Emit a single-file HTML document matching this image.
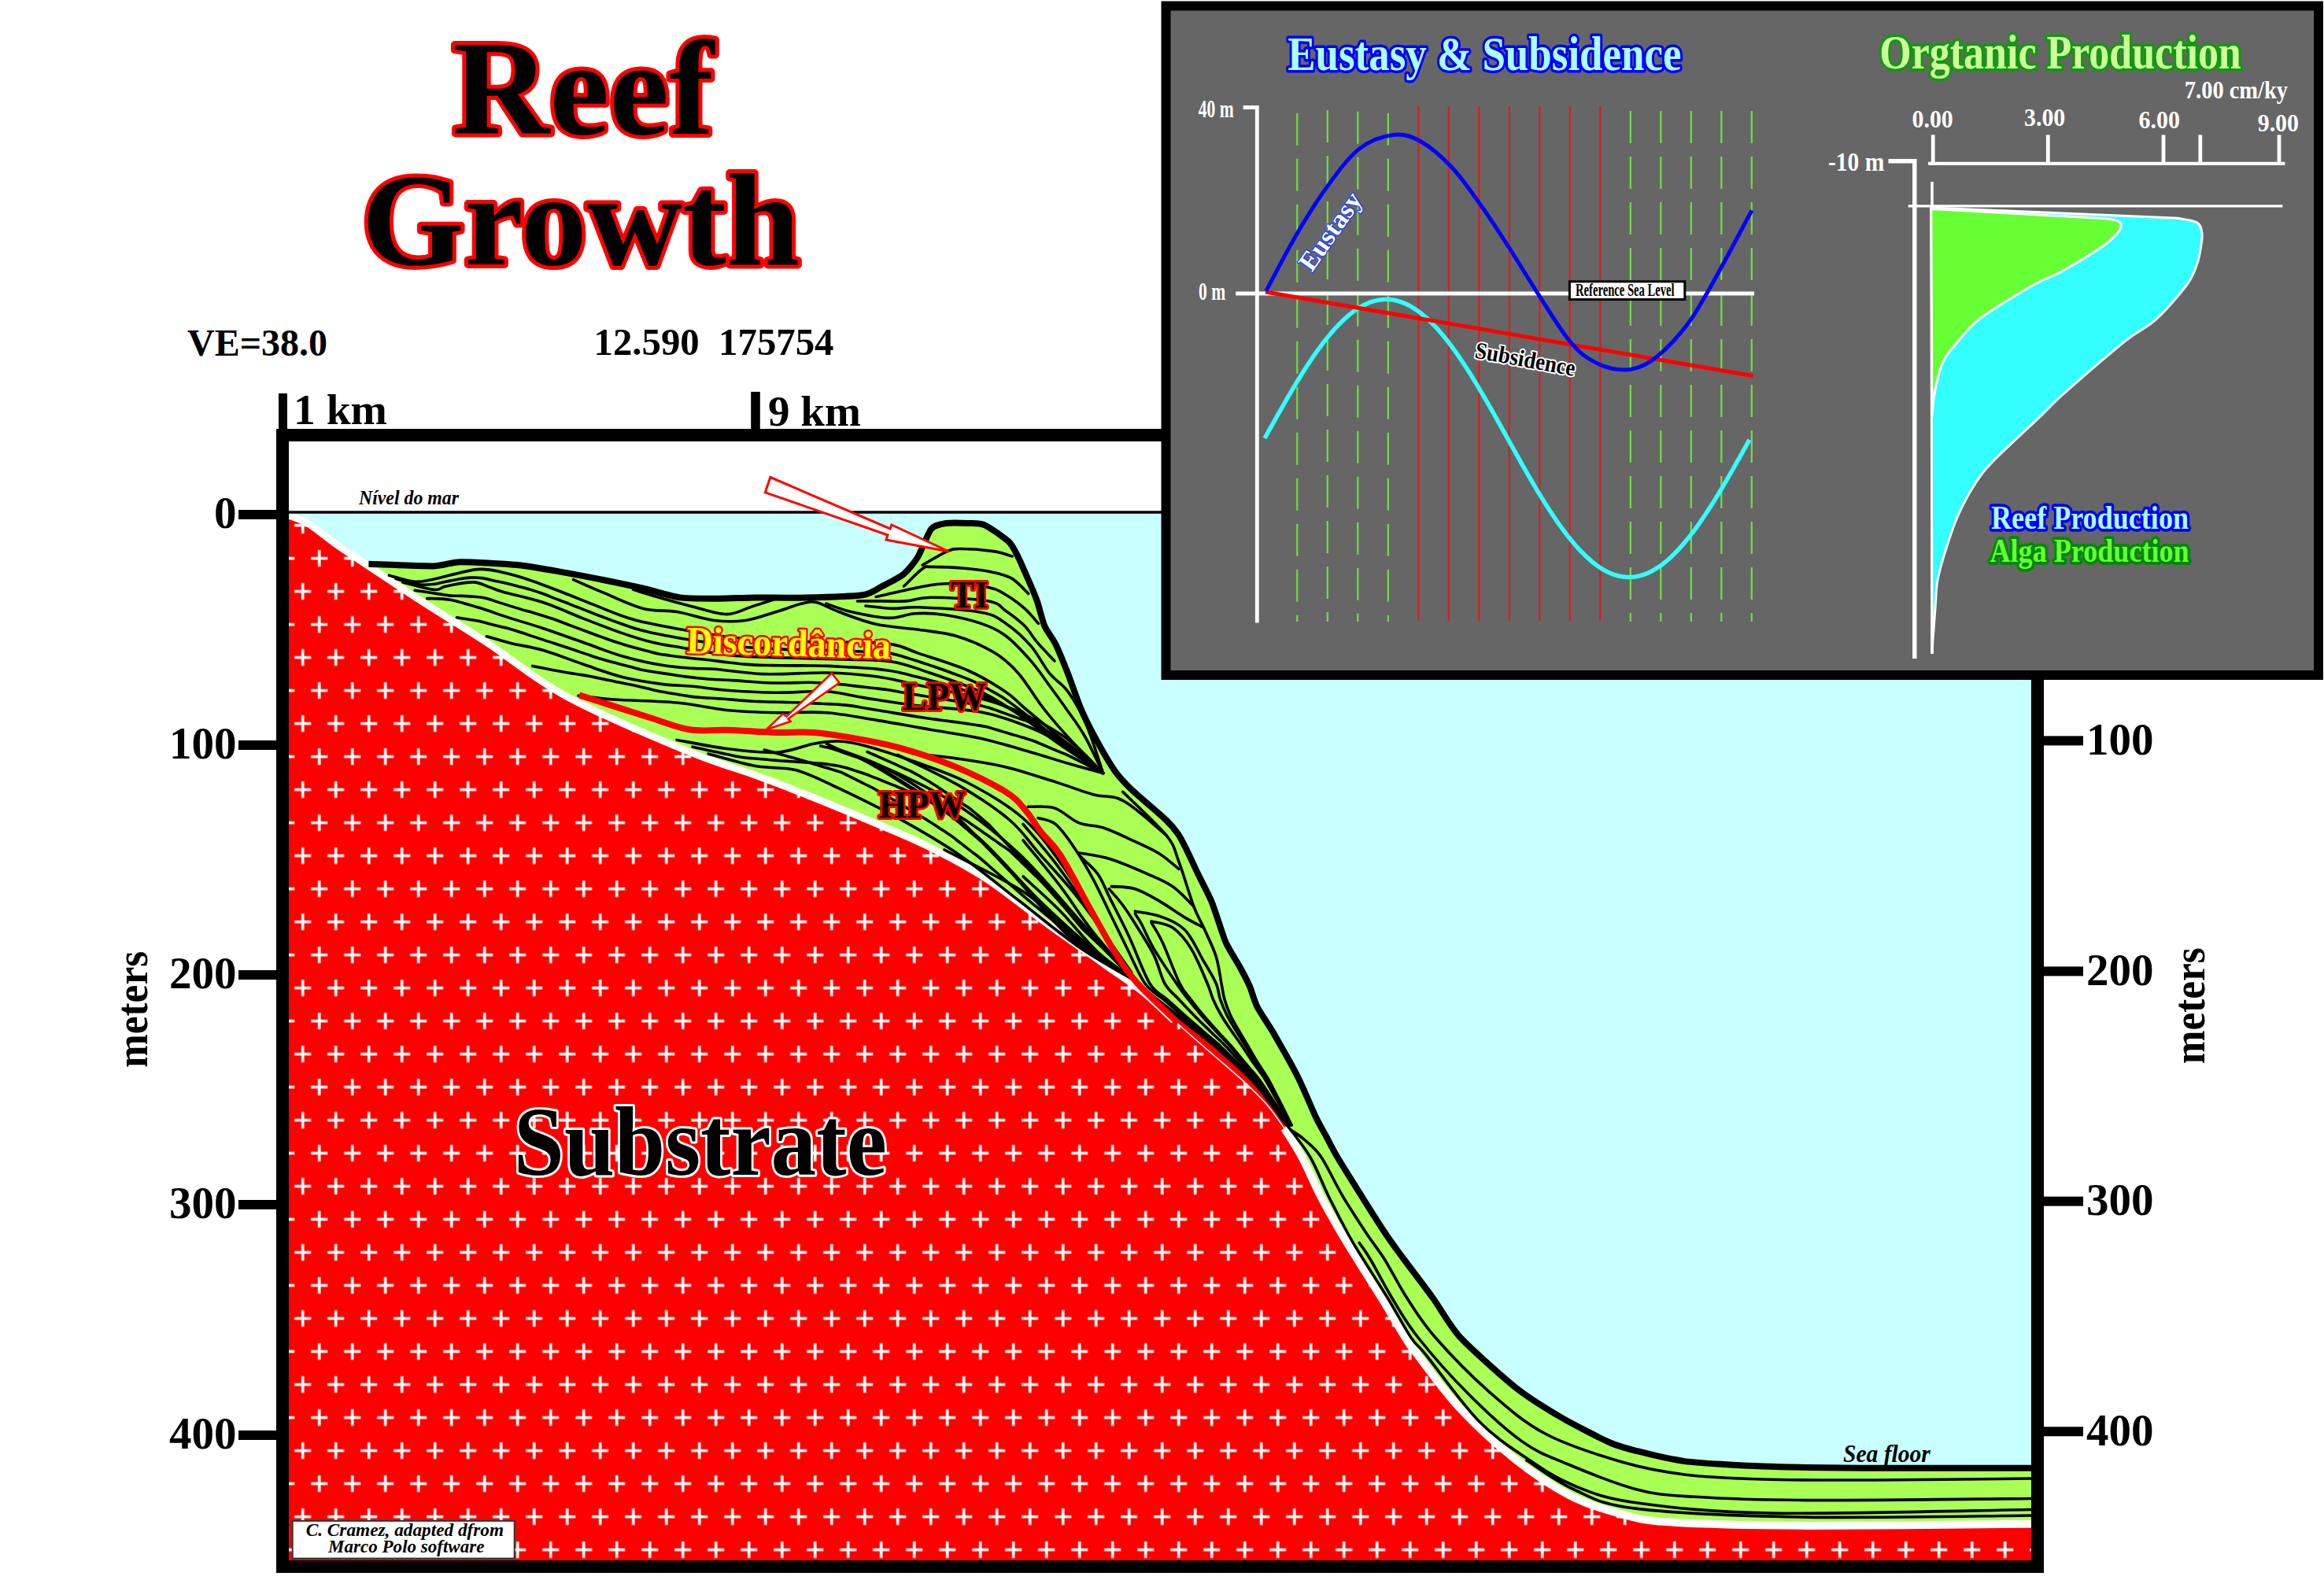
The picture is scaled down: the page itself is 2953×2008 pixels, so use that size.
<!DOCTYPE html><html><head><meta charset="utf-8"><style>html,body{margin:0;padding:0;background:#fff;overflow:hidden}svg{display:block}</style></head><body>
<svg xmlns="http://www.w3.org/2000/svg" width="2953" height="2008" viewBox="0 0 2953 2008">
<defs><pattern id="cross" patternUnits="userSpaceOnUse" x="342.7" y="688.6" width="42" height="84"><path d="M10.5,21H31.5M21,10.5V31.5M-10.5,63H10.5M0,52.5V73.5M31.5,63H52.5M42,52.5V73.5" stroke="#fff" stroke-width="3.6"/></pattern></defs>
<rect x="367" y="561" width="2214" height="1422" fill="#fff"/>
<rect x="367" y="651" width="2214" height="1332" fill="#c8ffff"/>
<path d="M367.0,655.0 C371.0,656.7 381.4,659.2 391.0,665.0 C400.6,670.8 411.6,680.6 424.5,689.7 C437.4,698.8 449.0,706.5 468.4,719.4 C487.8,732.3 515.7,751.1 540.7,767.2 C565.7,783.3 588.1,796.4 618.2,816.2 C648.3,836.0 678.5,862.8 721.5,886.0 C764.5,909.2 836.6,939.2 876.4,955.7 C916.1,972.2 935.3,976.2 960.0,985.2 C984.7,994.2 1001.3,1000.7 1024.6,1010.0 C1047.9,1019.3 1074.8,1030.3 1100.0,1041.0 C1125.2,1051.7 1150.7,1061.5 1176.0,1074.0 C1201.3,1086.5 1226.7,1099.7 1252.0,1116.0 C1277.3,1132.3 1302.7,1153.7 1328.0,1172.0 C1353.3,1190.3 1383.4,1211.3 1404.0,1226.0 C1424.6,1240.7 1437.1,1248.3 1451.6,1260.1 C1466.1,1271.8 1478.0,1284.6 1491.2,1296.5 C1504.4,1308.4 1516.3,1318.6 1530.8,1331.3 C1545.3,1344.0 1565.0,1360.3 1578.2,1372.4 C1591.4,1384.5 1600.9,1393.7 1609.9,1404.0 C1618.9,1414.3 1624.7,1423.0 1632.0,1434.0 C1639.3,1445.0 1646.3,1455.7 1654.0,1470.0 C1661.7,1484.3 1669.3,1503.3 1678.0,1520.0 C1686.7,1536.7 1698.2,1556.7 1706.0,1570.0 C1713.8,1583.3 1716.2,1586.7 1724.5,1600.0 C1732.8,1613.3 1745.6,1633.3 1755.8,1650.0 C1766.0,1666.7 1778.4,1688.3 1785.8,1700.0 C1793.2,1711.7 1788.3,1705.1 1800.0,1720.2 C1811.7,1735.3 1834.9,1768.2 1855.9,1790.7 C1876.9,1813.2 1903.0,1836.8 1926.0,1855.0 C1949.0,1873.2 1972.1,1888.7 1994.2,1900.2 C2016.3,1911.7 2037.3,1918.1 2058.8,1923.8 C2080.3,1929.5 2083.9,1932.1 2123.3,1934.6 C2162.7,1937.1 2219.0,1938.6 2295.4,1938.9 C2371.8,1939.2 2533.9,1937.1 2581.6,1936.7 L2581,1983 L367,1983 Z" fill="#f00"/>
<path d="M367.0,655.0 C371.0,656.7 381.4,659.2 391.0,665.0 C400.6,670.8 411.6,680.6 424.5,689.7 C437.4,698.8 449.0,706.5 468.4,719.4 C487.8,732.3 515.7,751.1 540.7,767.2 C565.7,783.3 588.1,796.4 618.2,816.2 C648.3,836.0 678.5,862.8 721.5,886.0 C764.5,909.2 836.6,939.2 876.4,955.7 C916.1,972.2 935.3,976.2 960.0,985.2 C984.7,994.2 1001.3,1000.7 1024.6,1010.0 C1047.9,1019.3 1074.8,1030.3 1100.0,1041.0 C1125.2,1051.7 1150.7,1061.5 1176.0,1074.0 C1201.3,1086.5 1226.7,1099.7 1252.0,1116.0 C1277.3,1132.3 1302.7,1153.7 1328.0,1172.0 C1353.3,1190.3 1383.4,1211.3 1404.0,1226.0 C1424.6,1240.7 1437.1,1248.3 1451.6,1260.1 C1466.1,1271.8 1478.0,1284.6 1491.2,1296.5 C1504.4,1308.4 1516.3,1318.6 1530.8,1331.3 C1545.3,1344.0 1565.0,1360.3 1578.2,1372.4 C1591.4,1384.5 1600.9,1393.7 1609.9,1404.0 C1618.9,1414.3 1624.7,1423.0 1632.0,1434.0 C1639.3,1445.0 1646.3,1455.7 1654.0,1470.0 C1661.7,1484.3 1669.3,1503.3 1678.0,1520.0 C1686.7,1536.7 1698.2,1556.7 1706.0,1570.0 C1713.8,1583.3 1716.2,1586.7 1724.5,1600.0 C1732.8,1613.3 1745.6,1633.3 1755.8,1650.0 C1766.0,1666.7 1778.4,1688.3 1785.8,1700.0 C1793.2,1711.7 1788.3,1705.1 1800.0,1720.2 C1811.7,1735.3 1834.9,1768.2 1855.9,1790.7 C1876.9,1813.2 1903.0,1836.8 1926.0,1855.0 C1949.0,1873.2 1972.1,1888.7 1994.2,1900.2 C2016.3,1911.7 2037.3,1918.1 2058.8,1923.8 C2080.3,1929.5 2083.9,1932.1 2123.3,1934.6 C2162.7,1937.1 2219.0,1938.6 2295.4,1938.9 C2371.8,1939.2 2533.9,1937.1 2581.6,1936.7 L2581,1983 L367,1983 Z" fill="url(#cross)"/>
<path d="M468.4,716.8 C478.0,717.1 537.4,719.7 551.0,719.4 C564.6,719.1 572.2,714.4 584.6,714.2 C597.0,714.0 641.0,716.3 657.0,718.0 C673.0,719.7 703.4,725.1 721.5,728.4 C739.6,731.7 795.2,742.9 811.8,746.5 C828.4,750.1 851.5,757.7 863.5,759.4 C875.5,761.1 903.7,760.7 915.0,760.7 C926.3,760.7 947.3,759.5 960.0,759.4 C972.7,759.3 1008.1,760.0 1024.0,759.6 C1039.9,759.2 1084.8,757.8 1096.0,756.2 C1107.2,754.6 1114.1,748.5 1120.0,745.5 C1125.9,742.5 1141.5,735.0 1146.9,730.7 C1152.3,726.4 1161.7,715.3 1165.9,708.5 C1170.1,701.7 1179.1,677.3 1183.3,672.2 C1187.5,667.1 1196.8,665.8 1202.3,665.0 C1207.8,664.2 1225.1,664.7 1230.8,665.0 C1236.5,665.3 1245.4,664.7 1251.3,667.4 C1257.2,670.1 1276.6,683.6 1281.4,688.0 C1286.2,692.4 1289.5,699.7 1292.5,705.4 C1295.5,711.1 1303.7,730.2 1306.7,737.0 C1309.7,743.8 1315.4,757.1 1317.8,763.9 C1320.2,770.7 1324.5,789.2 1327.3,795.6 C1330.1,802.0 1338.0,811.8 1341.5,819.0 C1345.0,826.2 1353.6,847.5 1357.3,857.0 C1361.0,866.5 1369.3,890.8 1373.2,900.0 C1377.1,909.2 1385.6,926.4 1390.6,935.7 C1395.6,945.0 1410.9,971.6 1416.4,979.5 C1421.9,987.4 1430.1,996.0 1437.7,1003.3 C1445.3,1010.6 1474.7,1035.4 1481.6,1042.0 C1488.5,1048.6 1493.9,1055.6 1497.0,1060.0 C1500.1,1064.4 1504.8,1073.9 1507.8,1080.0 C1510.8,1086.1 1519.2,1104.3 1522.9,1112.0 C1526.6,1119.7 1535.6,1136.2 1539.5,1145.8 C1543.4,1155.4 1553.3,1186.8 1556.0,1193.9 C1558.7,1201.0 1560.0,1202.4 1562.3,1206.6 C1564.6,1210.8 1573.0,1224.5 1576.0,1230.0 C1579.0,1235.5 1585.5,1247.9 1588.0,1253.7 C1590.5,1259.5 1594.2,1273.2 1597.7,1280.0 C1601.2,1286.8 1611.8,1301.9 1617.8,1312.3 C1623.8,1322.7 1643.1,1356.6 1649.4,1369.2 C1655.7,1381.8 1667.9,1411.2 1672.1,1420.0 C1676.3,1428.8 1682.3,1438.9 1685.4,1444.7 C1688.5,1450.5 1693.8,1461.2 1699.0,1470.0 C1704.2,1478.8 1722.7,1508.3 1730.0,1520.0 C1737.3,1531.7 1755.7,1560.7 1762.0,1570.0 C1768.3,1579.3 1776.7,1590.7 1783.6,1600.0 C1790.5,1609.3 1812.6,1638.3 1821.0,1650.0 C1829.4,1661.7 1843.5,1686.7 1855.8,1700.0 C1868.1,1713.3 1911.4,1751.9 1926.4,1763.8 C1941.4,1775.7 1970.7,1793.8 1984.6,1801.9 C1998.5,1810.0 2034.7,1828.6 2045.9,1833.5 C2057.1,1838.4 2069.3,1841.4 2080.3,1844.2 C2091.3,1847.0 2121.9,1854.8 2140.5,1857.1 C2159.1,1859.4 2211.4,1862.6 2239.5,1863.6 C2267.6,1864.6 2341.6,1865.5 2381.5,1865.7 C2421.4,1865.9 2558.3,1865.7 2581.6,1865.7 L2581.6,1937  C2533.9,1937.1 2371.8,1939.2 2295.4,1938.9 C2219.0,1938.6 2162.7,1937.1 2123.3,1934.6 C2083.9,1932.1 2080.3,1929.5 2058.8,1923.8 C2037.3,1918.1 2016.3,1911.7 1994.2,1900.2 C1972.1,1888.7 1949.0,1873.2 1926.0,1855.0 C1903.0,1836.8 1876.9,1813.2 1855.9,1790.7 C1834.9,1768.2 1811.7,1735.3 1800.0,1720.2 C1788.3,1705.1 1793.2,1711.7 1785.8,1700.0 C1778.4,1688.3 1766.0,1666.7 1755.8,1650.0 C1745.6,1633.3 1732.8,1613.3 1724.5,1600.0 C1716.2,1586.7 1713.8,1583.3 1706.0,1570.0 C1698.2,1556.7 1686.7,1536.7 1678.0,1520.0 C1669.3,1503.3 1661.7,1484.3 1654.0,1470.0 C1646.3,1455.7 1639.3,1445.0 1632.0,1434.0 C1624.7,1423.0 1618.9,1414.3 1609.9,1404.0 C1600.9,1393.7 1591.4,1384.5 1578.2,1372.4 C1565.0,1360.3 1545.3,1344.0 1530.8,1331.3 C1516.3,1318.6 1504.4,1308.4 1491.2,1296.5 C1478.0,1284.6 1466.1,1271.8 1451.6,1260.1 C1437.1,1248.3 1424.6,1240.7 1404.0,1226.0 C1383.4,1211.3 1353.3,1190.3 1328.0,1172.0 C1302.7,1153.7 1277.3,1132.3 1252.0,1116.0 C1226.7,1099.7 1201.3,1086.5 1176.0,1074.0 C1150.7,1061.5 1125.2,1051.7 1100.0,1041.0 C1074.8,1030.3 1047.9,1019.3 1024.6,1010.0 C1001.3,1000.7 984.7,994.2 960.0,985.2 C935.3,976.2 916.1,972.2 876.4,955.7 C836.6,939.2 764.5,909.2 721.5,886.0 C678.5,862.8 648.3,836.0 618.2,816.2 C588.1,796.4 565.7,783.3 540.7,767.2 C515.7,751.1 480.4,727.4 468.4,719.4 Z" fill="#aaff55"/>
<path d="M367.0,655.0 C371.0,656.7 381.4,659.2 391.0,665.0 C400.6,670.8 411.6,680.6 424.5,689.7 C437.4,698.8 449.0,706.5 468.4,719.4 C487.8,732.3 515.7,751.1 540.7,767.2 C565.7,783.3 588.1,796.4 618.2,816.2 C648.3,836.0 678.5,862.8 721.5,886.0 C764.5,909.2 836.6,939.2 876.4,955.7 C916.1,972.2 935.3,976.2 960.0,985.2 C984.7,994.2 1001.3,1000.7 1024.6,1010.0 C1047.9,1019.3 1074.8,1030.3 1100.0,1041.0 C1125.2,1051.7 1150.7,1061.5 1176.0,1074.0 C1201.3,1086.5 1226.7,1099.7 1252.0,1116.0 C1277.3,1132.3 1302.7,1153.7 1328.0,1172.0 C1353.3,1190.3 1383.4,1211.3 1404.0,1226.0 C1424.6,1240.7 1437.1,1248.3 1451.6,1260.1 C1466.1,1271.8 1484.6,1290.4 1491.2,1296.5" fill="none" stroke="#fff" stroke-width="9"/>
<path d="M1632.0,1434.0 C1635.7,1440.0 1646.3,1455.7 1654.0,1470.0 C1661.7,1484.3 1669.3,1503.3 1678.0,1520.0 C1686.7,1536.7 1698.2,1556.7 1706.0,1570.0 C1713.8,1583.3 1716.2,1586.7 1724.5,1600.0 C1732.8,1613.3 1745.6,1633.3 1755.8,1650.0 C1766.0,1666.7 1778.4,1688.3 1785.8,1700.0 C1793.2,1711.7 1788.3,1705.1 1800.0,1720.2 C1811.7,1735.3 1834.9,1768.2 1855.9,1790.7 C1876.9,1813.2 1903.0,1836.8 1926.0,1855.0 C1949.0,1873.2 1972.1,1888.7 1994.2,1900.2 C2016.3,1911.7 2037.3,1918.1 2058.8,1923.8 C2080.3,1929.5 2083.9,1932.1 2123.3,1934.6 C2162.7,1937.1 2219.0,1938.6 2295.4,1938.9 C2371.8,1939.2 2533.9,1937.1 2581.6,1936.7" fill="none" stroke="#fff" stroke-width="10"/>
<path d="M1418.7,1213.6 C1423.2,1219.7 1432.2,1236.7 1445.6,1250.0 C1459.0,1263.3 1482.3,1279.8 1499.1,1293.3 C1515.9,1306.8 1530.8,1317.6 1546.6,1331.3 C1562.4,1345.0 1579.5,1359.5 1594.0,1375.6 C1608.5,1391.7 1627.0,1419.1 1633.6,1427.8 L1632.0,1434.0 C1628.3,1429.0 1618.9,1414.3 1609.9,1404.0 C1600.9,1393.7 1591.4,1384.5 1578.2,1372.4 C1565.0,1360.3 1545.3,1344.0 1530.8,1331.3 C1516.3,1318.6 1504.4,1308.4 1491.2,1296.5 C1478.0,1284.6 1458.2,1266.2 1451.6,1260.1 Z" fill="#f00"/>
<path d="M1491.2,1296.5 C1497.8,1302.3 1516.3,1318.6 1530.8,1331.3 C1545.3,1344.0 1565.0,1360.3 1578.2,1372.4 C1591.4,1384.5 1600.9,1393.7 1609.9,1404.0 C1618.9,1414.3 1628.3,1429.0 1632.0,1434.0" fill="none" stroke="#fff" stroke-width="1.5"/>
<path d="M1418.7,1213.6 C1423.2,1219.7 1432.2,1236.7 1445.6,1250.0 C1459.0,1263.3 1482.3,1279.8 1499.1,1293.3 C1515.9,1306.8 1530.8,1317.6 1546.6,1331.3 C1562.4,1345.0 1579.5,1359.5 1594.0,1375.6 C1608.5,1391.7 1627.0,1419.1 1633.6,1427.8" fill="none" stroke="#000" stroke-width="5"/>
<path d="M804.6,749.4 C810.9,751.3 829.9,757.2 842.5,760.8 C855.1,764.4 866.5,767.6 880.0,770.9 C893.5,774.2 910.8,780.6 923.3,780.6 C935.8,780.6 944.3,774.4 954.9,771.1 C965.5,767.8 981.3,762.6 986.6,760.9" fill="none" stroke="#000" stroke-width="3.6" stroke-linecap="round"/>
<path d="M728.6,736.7 C734.9,739.5 751.8,747.1 766.6,753.2 C781.4,759.3 801.6,769.4 817.2,773.4 C832.8,777.4 845.0,775.0 860.0,777.5 C875.0,780.0 893.0,786.7 907.5,788.5 C922.0,790.3 933.8,790.3 947.0,788.5 C960.2,786.7 974.7,781.0 986.6,777.5 C998.5,774.0 1009.8,769.2 1018.2,767.2 C1026.6,765.2 1029.3,763.9 1037.2,765.6 C1045.1,767.3 1053.0,772.9 1065.7,777.5 C1078.4,782.1 1096.2,789.5 1113.2,793.3 C1130.2,797.1 1150.5,797.8 1167.5,800.3 C1184.5,802.8 1199.1,803.5 1214.9,808.2 C1230.7,813.0 1249.2,820.9 1262.4,828.8 C1275.6,836.7 1283.5,843.8 1294.0,855.7 C1304.5,867.6 1314.7,886.0 1325.7,900.0 C1336.7,914.0 1347.3,926.2 1360.0,940.0 C1372.7,953.8 1394.7,975.4 1401.6,982.5" fill="none" stroke="#000" stroke-width="3.6" stroke-linecap="round"/>
<path d="M494.4,731.3 C499.6,732.6 516.2,738.2 525.4,739.1 C534.6,740.0 536.0,739.1 549.5,736.5 C563.0,733.9 591.2,725.1 606.3,723.6 C621.4,722.1 629.1,725.6 640.0,727.8 C650.9,730.0 658.9,732.5 671.6,736.7 C684.3,740.9 702.3,747.9 716.0,753.2 C729.7,758.5 739.2,762.7 754.0,768.4 C768.8,774.1 785.9,782.0 804.6,787.3 C823.3,792.6 845.1,796.2 866.0,800.0 C886.9,803.8 907.7,807.5 930.0,810.0 C952.3,812.5 976.7,814.0 1000.0,815.0 C1023.3,816.0 1048.0,815.4 1070.0,816.0 C1092.0,816.6 1116.0,816.2 1132.2,818.6 C1148.5,821.0 1151.1,824.8 1167.5,830.4 C1183.9,836.0 1212.3,844.3 1230.8,852.5 C1249.2,860.7 1266.3,871.5 1278.2,879.4 C1290.1,887.3 1290.0,889.9 1302.0,900.0 C1314.0,910.1 1333.4,926.2 1350.0,940.0 C1366.6,953.8 1393.0,975.4 1401.6,982.5" fill="none" stroke="#000" stroke-width="3.6" stroke-linecap="round"/>
<path d="M511.6,739.9 C518.2,741.5 542.0,748.5 551.2,749.4 C560.4,750.3 558.4,746.7 566.7,745.1 C575.0,743.5 591.6,739.6 601.1,739.9 C610.6,740.2 617.0,744.7 623.5,746.8 C630.0,748.9 628.8,749.3 640.0,752.5 C651.2,755.7 673.7,760.2 690.6,765.8 C707.5,771.4 724.4,779.5 741.3,786.1 C758.2,792.7 777.1,800.0 791.9,805.1 C806.7,810.2 817.5,813.5 829.9,816.5 C842.2,819.5 849.3,820.2 866.0,823.0 C882.7,825.8 907.7,830.8 930.0,833.0 C952.3,835.2 976.7,835.2 1000.0,836.0 C1023.3,836.8 1048.0,837.2 1070.0,838.0 C1092.0,838.8 1113.3,837.8 1132.2,840.8 C1151.1,843.8 1164.2,849.3 1183.3,855.7 C1202.4,862.1 1228.8,871.2 1246.6,879.4 C1264.4,887.6 1273.6,894.1 1290.0,905.0 C1306.4,915.9 1326.4,932.1 1345.0,945.0 C1363.6,957.9 1392.2,976.2 1401.6,982.5" fill="none" stroke="#000" stroke-width="3.6" stroke-linecap="round"/>
<path d="M542.6,760.6 C547.5,760.9 559.9,760.0 571.9,762.3 C583.9,764.6 603.5,770.9 614.9,774.3 C626.2,777.7 627.4,778.8 640.0,782.9 C652.6,787.0 673.7,793.1 690.6,798.7 C707.5,804.3 724.4,810.6 741.3,816.5 C758.2,822.4 775.0,829.4 791.9,834.2 C808.8,839.1 827.8,843.1 842.5,845.6 C857.2,848.1 869.2,848.6 880.0,849.4 C890.8,850.2 892.4,849.1 907.5,850.3 C922.6,851.5 947.1,855.8 970.8,856.6 C994.5,857.4 1026.2,854.5 1049.9,855.0 C1073.6,855.5 1094.9,857.3 1113.2,859.7 C1131.5,862.1 1136.5,864.2 1160.0,869.2 C1183.5,874.2 1229.5,882.9 1254.5,890.0 C1279.5,897.1 1292.8,903.7 1309.9,912.0 C1327.0,920.3 1342.0,928.2 1357.3,940.0 C1372.6,951.8 1394.2,975.4 1401.6,982.5" fill="none" stroke="#000" stroke-width="3.6" stroke-linecap="round"/>
<path d="M618.3,808.8 C623.5,810.2 637.2,814.4 649.3,817.4 C661.3,820.4 675.3,822.1 690.6,826.6 C705.9,831.1 724.4,838.6 741.3,844.3 C758.2,850.0 775.0,856.6 791.9,860.8 C808.8,865.0 827.8,867.7 842.5,869.6 C857.2,871.5 866.5,870.9 880.0,872.2 C893.5,873.5 905.5,875.9 923.3,877.2 C941.1,878.6 965.5,880.0 986.6,880.3 C1007.7,880.5 1031.5,877.7 1049.9,878.7 C1068.4,879.8 1079.0,883.7 1097.3,886.6 C1115.6,889.5 1135.1,893.0 1160.0,896.1 C1184.9,899.2 1221.6,900.2 1246.6,905.0 C1271.6,909.8 1291.5,917.5 1309.9,925.0 C1328.4,932.5 1342.0,940.4 1357.3,950.0 C1372.6,959.6 1394.2,977.1 1401.6,982.5" fill="none" stroke="#000" stroke-width="3.6" stroke-linecap="round"/>
<path d="M735.0,884.0 C742.5,884.8 759.2,887.5 780.0,889.0 C800.8,890.5 836.1,890.8 860.0,893.0 C883.9,895.2 902.2,900.4 923.3,902.5 C944.4,904.6 965.5,905.2 986.6,905.7 C1007.7,906.2 1028.8,904.1 1049.9,905.7 C1071.0,907.3 1091.0,911.5 1113.2,915.1 C1135.4,918.7 1161.1,923.6 1183.3,927.5 C1205.5,931.4 1225.5,933.8 1246.6,938.5 C1267.7,943.2 1291.5,950.7 1309.9,956.0 C1328.4,961.3 1342.0,965.8 1357.3,970.2 C1372.6,974.6 1394.2,980.5 1401.6,982.5" fill="none" stroke="#000" stroke-width="3.6" stroke-linecap="round"/>
<path d="M1172.2,718.0 C1177.5,715.1 1195.7,704.0 1203.9,700.6 C1212.1,697.2 1211.5,697.5 1221.3,697.5 C1231.0,697.5 1251.6,699.0 1262.4,700.6 C1273.2,702.2 1282.1,705.9 1286.1,707.0" fill="none" stroke="#000" stroke-width="3.6" stroke-linecap="round"/>
<path d="M1148.5,745.0 C1152.5,741.3 1166.4,726.9 1172.2,722.8 C1178.0,718.7 1173.5,720.4 1183.3,720.4 C1193.1,720.4 1217.6,721.6 1230.8,722.8 C1244.0,724.0 1253.2,725.4 1262.4,727.5 C1271.6,729.6 1278.7,730.9 1286.1,735.4 C1293.5,739.9 1303.3,751.2 1306.7,754.4" fill="none" stroke="#000" stroke-width="3.6" stroke-linecap="round"/>
<path d="M1113.2,758.5 C1122.2,756.5 1152.4,749.3 1167.5,746.5 C1182.6,743.7 1189.1,741.8 1203.9,741.8 C1218.7,741.8 1243.7,744.1 1256.1,746.5 C1268.5,748.9 1270.5,751.5 1278.2,756.0 C1285.9,760.5 1295.1,767.3 1302.0,773.4 C1308.9,779.5 1316.5,789.2 1319.4,792.4" fill="none" stroke="#000" stroke-width="3.6" stroke-linecap="round"/>
<path d="M1089.4,764.0 C1094.5,764.0 1109.6,763.9 1120.0,763.9 C1130.4,763.9 1141.0,764.7 1151.6,763.9 C1162.1,763.1 1165.9,759.2 1183.3,759.2 C1200.7,759.2 1240.3,761.0 1256.1,763.9 C1271.9,766.8 1270.5,771.3 1278.2,776.6 C1285.9,781.9 1295.4,789.0 1302.0,795.6 C1308.6,802.2 1311.5,808.7 1317.8,816.1 C1324.1,823.5 1336.2,835.9 1339.9,839.9" fill="none" stroke="#000" stroke-width="3.6" stroke-linecap="round"/>
<path d="M1100.0,770.0 C1106.0,770.6 1124.5,773.1 1135.8,773.4 C1147.0,773.7 1149.0,771.0 1167.5,771.8 C1186.0,772.6 1228.1,774.8 1246.6,778.2 C1265.0,781.6 1267.7,785.3 1278.2,792.4 C1288.8,799.5 1300.7,810.3 1309.9,820.9 C1319.1,831.5 1325.7,846.0 1333.6,855.7 C1341.5,865.5 1349.6,868.7 1357.3,879.4 C1365.0,890.1 1372.6,902.8 1380.0,920.0 C1387.4,937.2 1398.0,972.1 1401.6,982.5" fill="none" stroke="#000" stroke-width="3.6" stroke-linecap="round"/>
<path d="M1049.9,767.2 C1055.2,768.9 1068.3,774.5 1081.5,777.5 C1094.7,780.5 1115.5,785.0 1129.0,785.4 C1142.5,785.8 1151.0,780.4 1162.7,779.7 C1174.4,779.0 1185.1,779.2 1199.1,781.3 C1213.1,783.4 1233.4,787.9 1246.6,792.4 C1259.8,796.9 1267.7,800.3 1278.2,808.2 C1288.8,816.1 1300.7,829.4 1309.9,839.9 C1319.1,850.4 1326.2,861.5 1333.6,871.5 C1341.0,881.5 1346.8,889.4 1354.2,900.0 C1361.6,910.6 1370.1,921.2 1378.0,935.0 C1385.9,948.8 1397.7,974.6 1401.6,982.5" fill="none" stroke="#000" stroke-width="3.6" stroke-linecap="round"/>
<path d="M1159.6,957.5 C1168.8,958.6 1195.1,961.0 1214.9,963.9 C1234.7,966.8 1257.1,969.9 1278.2,974.9 C1299.3,979.9 1323.0,988.1 1341.5,993.9 C1360.0,999.7 1375.9,1006.3 1389.0,1009.7 C1402.1,1013.1 1410.7,1011.1 1420.0,1014.5 C1429.3,1017.9 1434.7,1022.1 1445.0,1030.0 C1455.3,1037.9 1475.8,1056.4 1482.0,1061.7" fill="none" stroke="#000" stroke-width="3.6" stroke-linecap="round"/>
<path d="M1306.3,1025.3 C1311.8,1025.6 1328.8,1023.5 1339.6,1026.9 C1350.4,1030.3 1360.7,1041.7 1371.2,1045.9 C1381.7,1050.1 1390.9,1048.2 1402.8,1052.2 C1414.7,1056.2 1430.5,1064.1 1442.4,1069.6 C1454.3,1075.1 1464.8,1079.6 1474.0,1085.4 C1483.2,1091.2 1493.8,1101.2 1497.8,1104.4" fill="none" stroke="#000" stroke-width="3.6" stroke-linecap="round"/>
<path d="M1319.0,1039.6 C1322.8,1040.9 1333.8,1041.3 1341.5,1047.7 C1349.2,1054.1 1357.4,1066.2 1365.3,1077.8 C1373.2,1089.4 1381.5,1103.6 1389.0,1117.3 C1396.5,1131.0 1402.8,1145.4 1410.0,1160.0 C1417.2,1174.6 1424.5,1190.0 1432.0,1205.0 C1439.5,1220.0 1447.3,1239.2 1455.0,1250.0 C1462.7,1260.8 1470.4,1263.3 1478.1,1270.0 C1485.8,1276.7 1493.6,1283.3 1501.4,1290.0 C1509.3,1296.7 1517.3,1303.3 1525.3,1310.0 C1533.2,1316.7 1541.7,1323.3 1549.2,1330.0 C1556.6,1336.7 1563.1,1343.3 1570.0,1350.0 C1576.9,1356.7 1584.5,1363.3 1590.7,1370.0 C1596.8,1376.7 1601.8,1383.3 1607.0,1390.0 C1612.2,1396.7 1617.1,1403.3 1621.8,1410.0 C1626.4,1416.7 1632.8,1426.7 1635.0,1430.0" fill="none" stroke="#000" stroke-width="3.6" stroke-linecap="round"/>
<path d="M1371.2,1083.9 C1377.8,1085.2 1396.3,1087.3 1410.8,1091.8 C1425.3,1096.3 1445.0,1105.0 1458.2,1110.8 C1471.4,1116.6 1480.1,1119.8 1489.9,1126.6 C1499.7,1133.4 1512.3,1147.7 1516.8,1151.9" fill="none" stroke="#000" stroke-width="3.6" stroke-linecap="round"/>
<path d="M1372.8,1088.6 C1376.5,1092.3 1388.6,1101.8 1394.9,1110.8 C1401.2,1119.8 1404.2,1129.2 1410.8,1142.4 C1417.4,1155.6 1426.1,1172.0 1434.5,1189.9 C1442.9,1207.8 1452.9,1236.7 1461.0,1250.0 C1469.1,1263.3 1475.5,1263.3 1482.8,1270.0 C1490.2,1276.7 1497.6,1283.3 1505.1,1290.0 C1512.6,1296.7 1520.4,1303.3 1528.1,1310.0 C1535.8,1316.7 1544.0,1323.3 1551.2,1330.0 C1558.4,1336.7 1564.7,1343.3 1571.4,1350.0 C1578.2,1356.7 1585.6,1363.3 1591.6,1370.0 C1597.7,1376.7 1602.5,1383.3 1607.6,1390.0 C1612.7,1396.7 1617.5,1403.3 1622.1,1410.0 C1626.6,1416.7 1632.9,1426.7 1635.0,1430.0" fill="none" stroke="#000" stroke-width="3.6" stroke-linecap="round"/>
<path d="M1412.3,1126.6 C1417.3,1127.1 1432.1,1126.5 1442.4,1129.7 C1452.7,1132.9 1463.5,1139.5 1474.0,1145.6 C1484.5,1151.7 1496.5,1160.6 1505.7,1166.1 C1514.9,1171.6 1525.5,1176.7 1529.4,1178.8" fill="none" stroke="#000" stroke-width="3.6" stroke-linecap="round"/>
<path d="M1409.2,1129.7 C1412.1,1133.1 1421.1,1142.9 1426.6,1150.3 C1432.1,1157.7 1435.8,1163.5 1442.4,1174.0 C1449.0,1184.5 1459.8,1200.9 1466.1,1213.6 C1472.4,1226.3 1474.7,1240.6 1480.0,1250.0 C1485.3,1259.4 1491.7,1263.3 1497.8,1270.0 C1504.0,1276.7 1510.3,1283.3 1516.8,1290.0 C1523.4,1296.7 1530.3,1303.3 1537.2,1310.0 C1544.0,1316.7 1551.4,1323.3 1557.9,1330.0 C1564.4,1336.7 1570.1,1343.3 1576.3,1350.0 C1582.4,1356.7 1589.3,1363.3 1594.9,1370.0 C1600.5,1376.7 1605.0,1383.3 1609.7,1390.0 C1614.5,1396.7 1619.0,1403.3 1623.3,1410.0 C1627.6,1416.7 1633.5,1426.7 1635.6,1430.0" fill="none" stroke="#000" stroke-width="3.6" stroke-linecap="round"/>
<path d="M1442.4,1158.2 C1447.7,1159.3 1463.5,1160.6 1474.0,1164.6 C1484.5,1168.6 1496.5,1172.5 1505.7,1182.0 C1514.9,1191.5 1522.8,1210.2 1529.4,1221.5 C1536.0,1232.8 1541.8,1241.9 1545.3,1250.0 C1548.8,1258.1 1548.2,1263.3 1550.5,1270.0 C1552.7,1276.7 1555.5,1283.3 1558.9,1290.0 C1562.2,1296.7 1566.5,1303.3 1570.6,1310.0 C1574.6,1316.7 1579.1,1323.3 1583.3,1330.0 C1587.4,1336.7 1591.3,1343.3 1595.6,1350.0 C1599.9,1356.7 1605.0,1363.3 1609.0,1370.0 C1613.1,1376.7 1616.4,1383.3 1619.9,1390.0 C1623.5,1396.7 1627.0,1403.3 1630.4,1410.0 C1633.8,1416.7 1638.8,1426.7 1640.4,1430.0" fill="none" stroke="#000" stroke-width="3.6" stroke-linecap="round"/>
<path d="M1442.4,1161.4 C1443.7,1163.5 1446.3,1166.6 1450.3,1174.0 C1454.2,1181.4 1458.6,1193.0 1466.1,1205.7 C1473.5,1218.4 1487.7,1239.3 1495.0,1250.0 C1502.3,1260.7 1504.6,1263.3 1509.8,1270.0 C1515.0,1276.7 1520.5,1283.3 1526.3,1290.0 C1532.1,1296.7 1538.3,1303.3 1544.5,1310.0 C1550.7,1316.7 1557.4,1323.3 1563.4,1330.0 C1569.3,1336.7 1574.6,1343.3 1580.3,1350.0 C1586.1,1356.7 1592.5,1363.3 1597.8,1370.0 C1603.0,1376.7 1607.2,1383.3 1611.7,1390.0 C1616.1,1396.7 1620.4,1403.3 1624.5,1410.0 C1628.6,1416.7 1634.3,1426.7 1636.3,1430.0" fill="none" stroke="#000" stroke-width="3.6" stroke-linecap="round"/>
<path d="M1463.0,1170.9 C1467.5,1172.2 1481.5,1173.0 1489.9,1178.8 C1498.3,1184.6 1506.2,1193.8 1513.6,1205.7 C1521.0,1217.6 1529.6,1239.3 1534.2,1250.0 C1538.8,1260.7 1538.5,1263.3 1541.4,1270.0 C1544.3,1276.7 1547.7,1283.3 1551.6,1290.0 C1555.4,1296.7 1560.1,1303.3 1564.6,1310.0 C1569.2,1316.7 1574.1,1323.3 1578.7,1330.0 C1583.2,1336.7 1587.4,1343.3 1592.0,1350.0 C1596.6,1356.7 1602.0,1363.3 1606.3,1370.0 C1610.6,1376.7 1614.1,1383.3 1617.9,1390.0 C1621.6,1396.7 1625.3,1403.3 1628.9,1410.0 C1632.5,1416.7 1637.5,1426.7 1639.3,1430.0" fill="none" stroke="#000" stroke-width="3.6" stroke-linecap="round"/>
<path d="M1463.0,1172.5 C1465.4,1176.7 1471.2,1184.9 1477.2,1197.8 C1483.2,1210.7 1493.0,1238.0 1499.0,1250.0 C1505.0,1262.0 1508.0,1263.3 1513.0,1270.0 C1518.0,1276.7 1523.2,1283.3 1528.8,1290.0 C1534.4,1296.7 1540.5,1303.3 1546.5,1310.0 C1552.5,1316.7 1559.0,1323.3 1564.9,1330.0 C1570.7,1336.7 1575.8,1343.3 1581.4,1350.0 C1587.1,1356.7 1593.4,1363.3 1598.6,1370.0 C1603.7,1376.7 1607.8,1383.3 1612.2,1390.0 C1616.6,1396.7 1620.9,1403.3 1624.9,1410.0 C1628.9,1416.7 1634.6,1426.7 1636.5,1430.0" fill="none" stroke="#000" stroke-width="3.6" stroke-linecap="round"/>
<path d="M1426.6,1006.3 C1435.8,1015.5 1470.1,1046.9 1482.0,1061.7 C1493.9,1076.5 1492.0,1079.9 1497.8,1094.9 C1503.6,1109.9 1511.5,1137.9 1516.8,1151.9 C1522.1,1165.9 1524.7,1168.3 1529.4,1178.8 C1534.1,1189.3 1541.2,1203.1 1545.0,1215.0 C1548.8,1226.9 1550.2,1240.8 1552.0,1250.0 C1553.8,1259.2 1554.1,1263.3 1555.9,1270.0 C1557.8,1276.7 1560.3,1283.3 1563.3,1290.0 C1566.4,1296.7 1570.4,1303.3 1574.2,1310.0 C1578.0,1316.7 1582.2,1323.3 1586.1,1330.0 C1590.0,1336.7 1593.7,1343.3 1597.8,1350.0 C1601.9,1356.7 1606.8,1363.3 1610.7,1370.0 C1614.6,1376.7 1617.8,1383.3 1621.2,1390.0 C1624.7,1396.7 1628.1,1403.3 1631.4,1410.0 C1634.7,1416.7 1639.6,1426.7 1641.2,1430.0" fill="none" stroke="#000" stroke-width="3.6" stroke-linecap="round"/>
<path d="M1633.6,1427.8 C1638.8,1434.8 1655.4,1454.6 1664.5,1470.0 C1673.6,1485.4 1679.8,1503.3 1688.0,1520.0 C1696.2,1536.7 1706.7,1556.7 1714.0,1570.0 C1721.3,1583.3 1723.8,1586.7 1732.0,1600.0 C1740.2,1613.3 1753.3,1633.3 1763.5,1650.0 C1773.7,1666.7 1784.9,1688.0 1793.0,1700.0 C1801.1,1712.0 1797.8,1704.5 1812.0,1722.0 C1826.2,1739.5 1857.0,1783.3 1878.3,1805.2 C1899.6,1827.1 1919.6,1839.5 1939.9,1853.3 C1960.2,1867.1 1976.6,1878.5 2000.0,1888.0 C2023.4,1897.5 2038.2,1904.2 2080.3,1910.0 C2122.4,1915.8 2168.9,1921.6 2252.4,1923.0 C2335.9,1924.4 2526.7,1919.2 2581.6,1918.5" fill="none" stroke="#000" stroke-width="3.6" stroke-linecap="round"/>
<path d="M1940.0,1856.0 C1950.0,1862.2 1976.6,1882.8 2000.0,1893.0 C2023.4,1903.2 2031.1,1911.6 2080.3,1917.4 C2129.5,1923.2 2211.9,1926.7 2295.4,1928.1 C2378.9,1929.5 2533.9,1926.3 2581.6,1926.0" fill="none" stroke="#000" stroke-width="3.6" stroke-linecap="round"/>
<path d="M1640.0,1436.0 C1642.8,1438.0 1650.6,1442.3 1657.0,1448.0 C1663.4,1453.7 1670.3,1458.0 1678.5,1470.0 C1686.7,1482.0 1696.1,1503.3 1706.0,1520.0 C1715.9,1536.7 1729.2,1556.7 1738.0,1570.0 C1746.8,1583.3 1750.7,1586.7 1759.0,1600.0 C1767.3,1613.3 1777.2,1633.3 1788.0,1650.0 C1798.8,1666.7 1806.7,1680.3 1824.0,1700.0 C1841.3,1719.7 1868.5,1748.0 1891.7,1768.3 C1914.9,1788.6 1935.2,1807.1 1963.3,1822.0 C1991.3,1836.9 2030.5,1849.1 2060.0,1857.8 C2089.5,1866.5 2110.6,1870.3 2140.5,1874.0 C2170.4,1877.7 2199.3,1878.8 2239.5,1880.0 C2279.7,1881.2 2324.5,1881.2 2381.5,1881.0 C2438.5,1880.8 2548.2,1879.3 2581.6,1879.0" fill="none" stroke="#000" stroke-width="3.6" stroke-linecap="round"/>
<path d="M1727.2,1579.5 C1729.5,1582.9 1734.0,1588.2 1741.0,1600.0 C1748.0,1611.8 1758.8,1633.3 1769.0,1650.0 C1779.2,1666.7 1785.7,1679.5 1802.0,1700.0 C1818.3,1720.5 1845.0,1750.8 1867.1,1772.8 C1889.1,1794.8 1913.8,1817.6 1934.3,1832.1 C1954.8,1846.6 1965.9,1849.8 1990.2,1860.0 C2014.5,1870.2 2052.8,1886.0 2080.0,1893.0 C2107.2,1900.0 2117.5,1900.0 2153.4,1902.3 C2189.3,1904.6 2224.0,1906.2 2295.4,1906.6 C2366.8,1907.0 2533.9,1904.8 2581.6,1904.5" fill="none" stroke="#000" stroke-width="3.6" stroke-linecap="round"/>
<path d="M860.0,940.4 C870.5,942.2 902.2,948.9 923.3,951.5 C944.4,954.1 968.1,957.3 986.6,956.3 C1005.1,955.2 1020.8,947.6 1034.0,945.2 C1047.2,942.8 1054.7,941.5 1065.7,942.0 C1076.7,942.5 1084.3,943.8 1100.0,948.0 C1115.7,952.2 1138.3,959.5 1160.0,967.3 C1181.7,975.1 1206.7,982.9 1230.0,995.0 C1253.3,1007.1 1280.0,1022.5 1300.0,1040.0 C1320.0,1057.5 1333.3,1076.7 1350.0,1100.0 C1366.7,1123.3 1385.0,1156.2 1400.0,1180.0 C1415.0,1203.8 1433.3,1232.5 1440.0,1243.0" fill="none" stroke="#000" stroke-width="3.6" stroke-linecap="round"/>
<path d="M900.0,958.0 C910.0,960.6 941.4,970.1 960.0,973.6 C978.6,977.1 994.4,974.3 1011.6,978.8 C1028.8,983.3 1041.8,990.6 1063.3,1000.7 C1084.8,1010.8 1114.9,1025.2 1140.7,1039.4 C1166.5,1053.6 1192.4,1068.2 1218.2,1085.9 C1244.0,1103.6 1269.9,1125.5 1295.7,1145.3 C1321.5,1165.1 1348.2,1187.9 1373.1,1205.0 C1398.0,1222.1 1433.0,1240.8 1445.0,1248.0" fill="none" stroke="#000" stroke-width="3.6" stroke-linecap="round"/>
<path d="M1050.4,945.2 C1054.7,947.1 1061.2,950.6 1076.2,956.8 C1091.2,963.0 1117.0,971.4 1140.7,982.6 C1164.4,993.8 1192.4,1006.7 1218.2,1023.9 C1244.0,1041.1 1269.9,1061.4 1295.7,1085.9 C1321.5,1110.4 1349.4,1144.8 1373.1,1171.1 C1396.8,1197.3 1426.9,1231.4 1437.7,1243.4" fill="none" stroke="#000" stroke-width="3.6" stroke-linecap="round"/>
<path d="M1042.6,948.0 C1050.3,950.3 1068.4,951.9 1089.1,962.0 C1109.8,972.1 1140.8,991.2 1166.6,1008.4 C1192.4,1025.6 1218.2,1042.4 1244.0,1065.2 C1269.8,1088.0 1295.7,1120.3 1321.5,1145.3 C1347.3,1170.3 1378.8,1198.2 1398.9,1215.0 C1419.0,1231.8 1434.8,1240.8 1442.0,1246.0" fill="none" stroke="#000" stroke-width="3.6" stroke-linecap="round"/>
<path d="M1063.3,951.6 C1074.0,955.9 1104.1,964.6 1127.8,977.5 C1151.5,990.4 1179.5,1007.6 1205.3,1029.1 C1231.1,1050.6 1256.9,1079.4 1282.7,1106.6 C1308.5,1133.8 1333.5,1168.6 1360.2,1192.0 C1386.9,1215.4 1429.2,1237.8 1443.0,1247.0" fill="none" stroke="#000" stroke-width="3.6" stroke-linecap="round"/>
<path d="M1140.7,959.4 C1153.6,965.9 1194.5,984.3 1218.2,998.1 C1241.9,1011.9 1265.5,1027.4 1282.7,1042.0 C1299.9,1056.6 1306.4,1068.7 1321.5,1085.9 C1336.6,1103.1 1353.7,1120.3 1373.1,1145.3 C1392.5,1170.3 1426.9,1220.6 1437.7,1235.7" fill="none" stroke="#000" stroke-width="3.6" stroke-linecap="round"/>
<path d="M1300.0,1047.5 C1306.6,1055.4 1326.4,1077.8 1339.6,1094.9 C1352.8,1112.0 1367.2,1133.2 1379.1,1150.3 C1391.0,1167.4 1400.0,1181.5 1410.8,1197.8 C1421.6,1214.1 1438.5,1239.6 1444.0,1248.0" fill="none" stroke="#000" stroke-width="3.6" stroke-linecap="round"/>
<path d="M1300.0,1068.0 C1307.9,1077.8 1333.0,1107.6 1347.5,1126.6 C1362.0,1145.6 1371.4,1162.1 1387.0,1182.0 C1402.6,1201.9 1432.0,1235.3 1441.0,1246.0" fill="none" stroke="#000" stroke-width="3.6" stroke-linecap="round"/>
<path d="M1300.0,1091.8 C1307.9,1100.2 1331.7,1124.7 1347.5,1142.4 C1363.3,1160.1 1379.5,1180.9 1394.9,1197.8 C1410.3,1214.7 1432.5,1236.3 1440.0,1244.0" fill="none" stroke="#000" stroke-width="3.6" stroke-linecap="round"/>
<path d="M1300.0,1113.9 C1307.9,1121.3 1331.7,1142.2 1347.5,1158.2 C1363.3,1174.2 1379.5,1195.7 1394.9,1210.0 C1410.3,1224.3 1432.5,1238.3 1440.0,1244.0" fill="none" stroke="#000" stroke-width="3.6" stroke-linecap="round"/>
<path d="M1200.0,1080.0 C1216.7,1088.8 1275.4,1117.2 1300.0,1132.9 C1324.6,1148.6 1331.7,1160.3 1347.5,1174.0 C1363.3,1187.7 1379.5,1203.3 1394.9,1215.0 C1410.3,1226.7 1432.5,1239.2 1440.0,1244.0" fill="none" stroke="#000" stroke-width="3.6" stroke-linecap="round"/>
<path d="M503.0,735.6 C505.6,736.2 513.3,738.2 518.5,739.4 C523.7,740.7 528.8,742.6 534.0,743.1 C539.2,743.7 544.5,743.1 549.7,742.5 C554.9,741.9 560.1,740.4 565.4,739.4 C570.6,738.4 575.8,737.3 581.0,736.4 C586.3,735.5 591.5,734.4 596.7,734.1 C601.9,733.8 607.0,733.9 612.1,734.6 C617.3,735.2 622.4,736.8 627.6,737.9 C632.8,739.0 638.0,739.9 643.2,741.2 C648.4,742.4 653.5,743.8 658.6,745.2 C663.8,746.5 669.0,747.8 674.1,749.4 C679.2,750.9 684.2,752.5 689.2,754.3 C694.2,756.1 699.2,758.2 704.1,760.1 C709.1,762.0 714.1,763.9 719.0,765.8 C724.0,767.8 728.9,769.8 733.9,771.7 C738.8,773.7 743.8,775.6 748.8,777.5 C753.7,779.5 758.7,781.4 763.7,783.3 C768.6,785.1 773.6,787.0 778.6,788.9 C783.6,790.7 788.6,792.5 793.7,794.3 C798.7,796.0 803.7,797.8 808.8,799.3 C813.9,800.8 819.1,802.1 824.3,803.2 C829.5,804.4 834.7,805.4 839.9,806.4 C845.1,807.5 850.4,808.5 855.6,809.5 C860.8,810.4 866.1,811.4 871.3,812.3 C876.6,813.2 881.8,814.0 887.1,814.8 C892.4,815.6 897.6,816.4 902.9,817.3 C908.1,818.1 913.4,819.0 918.7,819.7 C923.9,820.5 929.2,821.2 934.5,821.7 C939.8,822.2 945.1,822.3 950.5,822.7 C955.8,823.0 961.1,823.3 966.4,823.6 C971.7,823.9 977.0,824.2 982.3,824.5 C987.7,824.8 993.0,825.2 998.3,825.4 C1003.6,825.6 1008.9,825.7 1014.3,825.8 C1019.6,825.9 1024.9,826.0 1030.2,826.1 C1035.6,826.3 1040.9,826.4 1046.2,826.5 C1051.5,826.6 1056.9,826.7 1062.2,826.8 C1067.5,827.0 1072.8,827.1 1078.1,827.4 C1083.5,827.6 1088.8,827.8 1094.1,828.0 C1099.4,828.3 1104.7,828.5 1110.1,828.7 C1115.4,829.0 1120.8,828.8 1126.0,829.4 C1131.3,830.1 1136.4,831.3 1141.5,832.7 C1146.7,834.0 1151.7,835.8 1156.8,837.4 C1161.9,839.0 1166.9,840.6 1172.0,842.2 C1177.1,843.9 1182.2,845.5 1187.2,847.2 C1192.2,848.9 1197.2,850.8 1202.2,852.6 C1207.2,854.4 1212.3,856.2 1217.2,858.1 C1222.2,859.9 1227.2,861.8 1232.1,863.9 C1237.0,865.9 1241.8,868.2 1246.5,870.6 C1251.2,873.0 1255.8,875.8 1260.4,878.4 C1265.1,881.0 1269.8,883.6 1274.3,886.4 C1278.7,889.3 1283.0,892.5 1287.3,895.6 C1291.5,898.8 1295.7,902.1 1299.9,905.3 C1304.1,908.6 1308.3,911.9 1312.5,915.1 C1316.7,918.4 1320.9,921.7 1325.1,925.0 C1329.3,928.2 1333.5,931.5 1337.7,934.8 C1341.9,938.0 1346.1,941.3 1350.3,944.5 C1354.6,947.7 1358.9,950.8 1363.1,954.0 C1367.4,957.2 1371.7,960.3 1376.0,963.5 C1380.2,966.7 1384.5,969.8 1388.8,973.0 C1393.1,976.2 1399.5,980.9 1401.6,982.5" fill="none" stroke="#000" stroke-width="3.6" stroke-linecap="round"/>
<path d="M527.1,750.2 C529.6,750.6 537.2,751.8 542.3,752.5 C547.3,753.3 552.4,754.1 557.4,754.9 C562.4,755.6 567.4,756.7 572.3,757.1 C577.3,757.5 582.3,757.2 587.2,757.4 C592.2,757.6 597.3,757.8 602.3,758.3 C607.3,758.8 612.2,759.1 617.1,760.2 C622.1,761.3 626.9,763.3 631.8,764.9 C636.7,766.5 641.6,768.1 646.5,769.6 C651.4,771.2 656.3,772.6 661.2,774.1 C666.1,775.6 671.1,776.9 676.0,778.3 C680.9,779.8 685.8,781.3 690.7,782.8 C695.6,784.3 700.5,785.8 705.4,787.5 C710.2,789.2 715.0,791.1 719.8,793.0 C724.6,794.8 729.4,796.6 734.2,798.4 C739.0,800.2 743.8,802.0 748.6,803.8 C753.5,805.6 758.3,807.3 763.1,809.1 C767.9,810.8 772.7,812.7 777.6,814.3 C782.4,816.0 787.3,817.5 792.2,819.0 C797.1,820.5 802.1,821.9 807.0,823.3 C812.0,824.6 816.9,825.9 821.9,827.2 C826.9,828.4 831.8,829.9 836.8,830.9 C841.9,831.9 847.0,832.4 852.0,833.2 C857.1,833.9 862.2,834.7 867.3,835.3 C872.4,836.0 877.5,836.5 882.6,837.0 C887.7,837.5 892.8,837.9 897.9,838.5 C903.0,839.0 908.1,839.7 913.2,840.4 C918.3,841.0 923.3,841.7 928.4,842.3 C933.5,842.9 938.6,843.5 943.7,844.0 C948.9,844.4 954.0,844.8 959.1,845.1 C964.2,845.3 969.4,845.4 974.5,845.5 C979.6,845.6 984.8,845.6 989.9,845.7 C995.0,845.7 1000.2,845.8 1005.3,845.9 C1010.4,845.9 1015.6,845.9 1020.7,845.9 C1025.8,846.0 1031.0,845.9 1036.1,846.0 C1041.2,846.1 1046.4,846.2 1051.5,846.4 C1056.6,846.6 1061.7,846.9 1066.9,847.2 C1072.0,847.5 1077.1,847.8 1082.3,848.0 C1087.4,848.3 1092.5,848.6 1097.6,849.0 C1102.7,849.3 1107.9,849.6 1113.0,850.1 C1118.1,850.6 1123.2,851.2 1128.2,852.0 C1133.3,852.7 1138.3,853.7 1143.3,854.8 C1148.3,855.9 1153.3,857.2 1158.2,858.5 C1163.2,859.7 1168.2,861.0 1173.2,862.3 C1178.1,863.6 1183.1,864.8 1188.1,866.2 C1193.0,867.6 1197.9,869.1 1202.8,870.6 C1207.7,872.1 1212.6,873.5 1217.5,875.0 C1222.4,876.4 1227.3,877.9 1232.2,879.4 C1237.2,880.8 1242.2,882.0 1247.0,883.7 C1251.8,885.5 1256.3,887.8 1261.0,889.9 C1265.6,892.1 1270.2,894.5 1274.8,896.7 C1279.4,899.0 1284.0,901.2 1288.5,903.5 C1293.1,905.8 1297.6,908.1 1302.1,910.7 C1306.5,913.2 1310.7,916.1 1315.1,918.8 C1319.4,921.6 1323.6,924.5 1327.9,927.3 C1332.2,930.1 1336.5,932.9 1340.8,935.8 C1345.0,938.6 1349.5,941.2 1353.6,944.2 C1357.7,947.2 1361.6,950.6 1365.6,953.8 C1369.6,957.0 1373.6,960.2 1377.6,963.4 C1381.6,966.6 1385.6,969.7 1389.6,972.9 C1393.6,976.1 1399.6,980.9 1401.6,982.5" fill="none" stroke="#000" stroke-width="3.6" stroke-linecap="round"/>
<path d="M580.5,784.7 C582.8,785.1 589.8,786.2 594.5,787.0 C599.2,787.7 603.9,788.3 608.6,789.3 C613.2,790.3 617.8,791.7 622.4,792.9 C627.0,794.1 631.7,795.2 636.3,796.4 C640.9,797.6 645.6,798.6 650.2,800.0 C654.8,801.3 659.3,802.8 663.8,804.3 C668.3,805.7 672.8,807.4 677.4,808.9 C681.9,810.4 686.4,811.9 691.0,813.4 C695.5,814.9 700.0,816.4 704.6,817.8 C709.1,819.3 713.7,820.8 718.2,822.3 C722.7,823.7 727.3,825.3 731.8,826.8 C736.3,828.3 740.8,829.9 745.3,831.4 C749.9,832.9 754.4,834.6 758.9,836.0 C763.5,837.4 768.0,838.7 772.6,840.0 C777.2,841.3 781.8,842.4 786.4,843.7 C791.0,844.9 795.6,846.1 800.2,847.3 C804.8,848.5 809.4,849.9 814.0,851.0 C818.7,852.0 823.4,852.7 828.1,853.5 C832.8,854.2 837.5,854.9 842.2,855.6 C846.9,856.3 851.6,857.0 856.3,857.7 C861.0,858.5 865.7,859.3 870.4,859.9 C875.2,860.6 879.9,861.0 884.7,861.5 C889.4,862.0 894.2,862.6 898.9,863.0 C903.7,863.4 908.4,863.5 913.2,863.8 C918.0,864.0 922.8,864.1 927.5,864.4 C932.3,864.6 937.0,865.0 941.8,865.4 C946.6,865.8 951.3,866.1 956.1,866.5 C960.8,866.8 965.6,867.2 970.4,867.5 C975.1,867.7 979.9,867.9 984.6,868.0 C989.4,868.1 994.2,868.0 999.0,868.0 C1003.7,867.9 1008.5,867.7 1013.3,867.6 C1018.0,867.5 1022.8,867.3 1027.6,867.3 C1032.4,867.3 1037.1,867.4 1041.9,867.7 C1046.6,867.9 1051.4,868.3 1056.1,868.6 C1060.8,869.0 1065.6,869.4 1070.3,869.9 C1075.1,870.4 1079.8,871.1 1084.5,871.6 C1089.3,872.1 1094.0,872.7 1098.8,873.2 C1103.5,873.7 1108.2,874.2 1113.0,874.8 C1117.7,875.3 1122.5,875.8 1127.2,876.6 C1131.9,877.3 1136.6,878.3 1141.3,879.1 C1146.0,879.9 1150.7,880.7 1155.4,881.5 C1160.1,882.3 1164.8,883.0 1169.5,883.7 C1174.2,884.5 1178.9,885.3 1183.6,886.0 C1188.3,886.8 1193.0,887.6 1197.7,888.3 C1202.4,889.1 1207.1,889.9 1211.8,890.6 C1216.5,891.4 1221.3,892.2 1226.0,893.0 C1230.7,893.7 1235.4,894.3 1240.1,895.3 C1244.7,896.3 1249.4,897.5 1253.9,898.8 C1258.5,900.1 1263.0,901.7 1267.5,903.2 C1272.0,904.8 1276.5,906.5 1281.0,908.1 C1285.5,909.7 1290.0,911.3 1294.5,912.9 C1299.0,914.5 1303.6,915.8 1307.9,917.7 C1312.3,919.6 1316.4,922.1 1320.6,924.4 C1324.8,926.7 1328.9,929.1 1333.1,931.4 C1337.2,933.8 1341.4,936.1 1345.6,938.4 C1349.7,940.8 1354.1,942.8 1358.0,945.6 C1361.8,948.3 1365.2,951.7 1368.9,954.8 C1372.5,957.9 1376.1,961.0 1379.8,964.0 C1383.4,967.1 1387.1,970.2 1390.7,973.3 C1394.3,976.3 1399.8,981.0 1401.6,982.5" fill="none" stroke="#000" stroke-width="3.6" stroke-linecap="round"/>
<path d="M676.6,846.4 C678.7,846.8 684.7,848.0 688.8,848.8 C692.8,849.6 696.9,850.5 700.9,851.3 C705.0,852.0 709.1,852.8 713.1,853.5 C717.2,854.2 721.3,855.0 725.4,855.6 C729.4,856.2 733.5,856.7 737.6,857.4 C741.7,858.0 745.7,858.7 749.7,859.5 C753.8,860.3 757.8,861.2 761.8,862.0 C765.8,862.9 769.8,863.7 773.8,864.5 C777.8,865.4 781.8,866.2 785.9,867.1 C789.9,867.9 793.9,868.7 797.9,869.5 C801.9,870.3 806.0,871.0 810.0,871.9 C814.0,872.8 818.0,873.8 822.0,874.8 C826.0,875.7 830.0,876.8 834.1,877.7 C838.1,878.6 842.2,879.3 846.2,880.0 C850.3,880.8 854.4,881.4 858.5,882.0 C862.6,882.7 866.7,883.4 870.8,884.0 C874.8,884.7 878.9,885.5 883.0,885.9 C887.1,886.4 891.3,886.5 895.4,886.8 C899.5,887.1 903.7,887.3 907.8,887.5 C911.9,887.8 916.1,888.0 920.2,888.3 C924.3,888.6 928.5,889.0 932.6,889.4 C936.7,889.7 940.8,890.1 944.9,890.4 C949.1,890.8 953.2,891.1 957.3,891.3 C961.5,891.6 965.6,891.6 969.7,891.7 C973.9,891.9 978.0,892.0 982.1,892.1 C986.3,892.2 990.4,892.3 994.6,892.4 C998.7,892.5 1002.8,892.6 1007.0,892.7 C1011.1,892.8 1015.3,892.8 1019.4,893.0 C1023.5,893.1 1027.6,893.4 1031.8,893.6 C1035.9,893.8 1040.0,894.0 1044.1,894.3 C1048.2,894.5 1052.3,894.7 1056.5,894.9 C1060.6,895.1 1064.7,895.2 1068.8,895.6 C1072.9,895.9 1077.0,896.3 1081.1,896.9 C1085.2,897.5 1089.3,898.2 1093.4,898.9 C1097.5,899.6 1101.6,900.3 1105.6,901.0 C1109.7,901.7 1113.8,902.4 1117.9,903.1 C1122.0,903.8 1126.1,904.4 1130.1,905.1 C1134.2,905.8 1138.3,906.4 1142.4,907.1 C1146.5,907.8 1150.6,908.4 1154.7,909.1 C1158.8,909.8 1162.8,910.4 1166.9,911.1 C1171.0,911.7 1175.1,912.4 1179.2,913.0 C1183.3,913.6 1187.4,914.1 1191.5,914.6 C1195.6,915.2 1199.7,915.7 1203.8,916.3 C1207.9,916.8 1212.0,917.4 1216.1,917.9 C1220.2,918.5 1224.3,919.0 1228.4,919.6 C1232.5,920.2 1236.6,920.7 1240.7,921.4 C1244.8,922.1 1248.9,922.7 1252.9,923.6 C1256.9,924.5 1260.8,925.9 1264.8,927.0 C1268.8,928.2 1272.7,929.4 1276.7,930.6 C1280.7,931.7 1284.6,932.9 1288.6,934.1 C1292.6,935.3 1296.6,936.5 1300.5,937.6 C1304.5,938.8 1308.5,939.9 1312.4,941.3 C1316.3,942.6 1320.0,944.4 1323.8,946.0 C1327.6,947.6 1331.4,949.2 1335.2,950.8 C1339.0,952.4 1342.8,954.0 1346.6,955.6 C1350.4,957.2 1354.3,958.7 1358.0,960.4 C1361.7,962.1 1365.3,964.1 1368.9,965.9 C1372.5,967.8 1376.2,969.6 1379.8,971.5 C1383.4,973.3 1387.1,975.1 1390.7,977.0 C1394.3,978.8 1399.8,981.6 1401.6,982.5" fill="none" stroke="#000" stroke-width="3.6" stroke-linecap="round"/>
<path d="M880.0,949.2 C881.8,949.6 887.3,950.8 890.9,951.5 C894.5,952.3 898.2,953.1 901.8,953.9 C905.4,954.7 909.0,955.4 912.7,956.2 C916.3,957.0 919.9,957.8 923.6,958.5 C927.2,959.3 930.8,960.2 934.5,960.9 C938.1,961.6 941.7,962.4 945.4,962.8 C949.1,963.3 952.8,963.5 956.5,963.8 C960.2,964.1 963.9,964.5 967.6,964.8 C971.3,965.1 975.0,965.4 978.7,965.8 C982.4,966.1 986.1,966.5 989.8,966.7 C993.5,967.0 997.3,967.2 1000.9,967.4 C1004.5,967.6 1007.9,967.9 1011.4,968.1 C1015.0,968.3 1018.5,968.6 1022.0,968.8 C1025.5,969.0 1029.1,969.2 1032.6,969.5 C1036.1,969.7 1039.6,969.9 1043.2,970.2 C1046.7,970.6 1050.3,971.2 1053.9,971.7 C1057.4,972.2 1061.0,972.7 1064.5,973.3 C1068.0,974.0 1071.5,974.8 1075.0,975.8 C1078.6,976.8 1082.0,978.0 1085.6,979.1 C1089.1,980.3 1092.6,981.3 1096.1,982.5 C1099.5,983.7 1103.0,984.9 1106.5,986.3 C1109.9,987.6 1113.3,989.0 1116.8,990.4 C1120.2,991.8 1123.7,993.2 1127.1,994.6 C1130.5,995.9 1134.0,997.3 1137.4,998.7 C1140.8,1000.1 1144.3,1001.5 1147.6,1003.0 C1151.0,1004.5 1154.4,1006.0 1157.7,1007.6 C1161.1,1009.1 1164.4,1010.8 1167.7,1012.4 C1171.1,1014.1 1174.4,1015.7 1177.7,1017.3 C1181.0,1018.9 1184.4,1020.5 1187.7,1022.2 C1191.0,1023.8 1194.4,1025.4 1197.7,1027.0 C1201.0,1028.7 1204.3,1030.3 1207.7,1031.9 C1211.0,1033.5 1214.4,1035.0 1217.7,1036.8 C1220.9,1038.5 1224.1,1040.5 1227.2,1042.5 C1230.3,1044.5 1233.4,1046.7 1236.4,1048.8 C1239.5,1050.9 1242.5,1053.0 1245.6,1055.1 C1248.6,1057.3 1251.6,1059.4 1254.7,1061.5 C1257.7,1063.6 1260.8,1065.8 1263.8,1067.9 C1266.9,1070.0 1269.9,1072.2 1272.9,1074.3 C1276.0,1076.4 1279.2,1078.3 1282.1,1080.7 C1285.0,1083.0 1287.5,1085.6 1290.2,1088.2 C1292.9,1090.7 1295.5,1093.3 1298.2,1095.9 C1300.8,1098.5 1303.4,1101.0 1306.1,1103.6 C1308.7,1106.2 1311.4,1108.8 1314.0,1111.4 C1316.7,1113.9 1319.3,1116.5 1322.0,1119.1 C1324.6,1121.7 1327.3,1124.2 1329.9,1126.8 C1332.5,1129.4 1335.1,1132.0 1337.6,1134.7 C1340.2,1137.4 1342.5,1140.2 1344.9,1142.9 C1347.3,1145.7 1349.8,1148.4 1352.2,1151.1 C1354.6,1153.9 1357.0,1156.6 1359.5,1159.3 C1361.9,1162.1 1364.3,1164.8 1366.7,1167.6 C1369.2,1170.3 1371.6,1173.0 1374.0,1175.8 C1376.4,1178.5 1378.8,1181.3 1381.3,1184.0 C1383.8,1186.6 1386.4,1189.1 1388.9,1191.7 C1391.5,1194.3 1394.0,1196.8 1396.6,1199.4 C1399.1,1202.0 1401.7,1204.5 1404.2,1207.1 C1406.8,1209.6 1409.3,1212.2 1411.9,1214.8 C1414.4,1217.3 1417.0,1219.9 1419.5,1222.4 C1422.1,1225.0 1424.6,1227.6 1427.2,1230.1 C1429.7,1232.7 1432.3,1235.3 1434.8,1237.8 C1437.4,1240.4 1441.2,1244.2 1442.5,1245.5" fill="none" stroke="#000" stroke-width="3.6" stroke-linecap="round"/>
<path d="M971.3,953.0 C972.8,953.4 977.3,954.7 980.4,955.5 C983.4,956.4 986.4,957.2 989.4,958.0 C992.5,958.9 995.5,959.7 998.5,960.6 C1001.5,961.4 1004.5,962.3 1007.6,963.1 C1010.6,963.9 1013.6,964.7 1016.6,965.6 C1019.6,966.5 1022.7,967.4 1025.6,968.3 C1028.6,969.2 1031.5,970.1 1034.4,971.0 C1037.3,971.9 1040.3,972.8 1043.2,973.7 C1046.1,974.5 1049.1,975.4 1052.0,976.3 C1054.9,977.2 1057.9,978.1 1060.8,979.0 C1063.7,979.9 1066.7,980.7 1069.6,981.8 C1072.4,983.0 1075.2,984.6 1078.0,986.0 C1080.8,987.4 1083.6,988.8 1086.4,990.2 C1089.2,991.6 1092.0,993.0 1094.8,994.4 C1097.6,995.8 1100.4,997.2 1103.2,998.6 C1106.0,1000.0 1108.8,1001.3 1111.6,1002.8 C1114.3,1004.2 1117.1,1005.8 1119.8,1007.3 C1122.5,1008.9 1125.2,1010.5 1127.8,1012.1 C1130.5,1013.7 1133.2,1015.4 1135.9,1017.0 C1138.6,1018.6 1141.3,1020.2 1143.9,1021.8 C1146.6,1023.4 1149.3,1025.0 1152.0,1026.6 C1154.7,1028.2 1157.4,1029.8 1160.0,1031.4 C1162.7,1033.0 1165.4,1034.6 1168.1,1036.2 C1170.8,1037.8 1173.5,1039.4 1176.1,1041.0 C1178.8,1042.7 1181.5,1044.3 1184.1,1046.0 C1186.7,1047.7 1189.3,1049.4 1192.0,1051.2 C1194.6,1052.9 1197.2,1054.6 1199.8,1056.3 C1202.4,1058.1 1205.1,1059.7 1207.7,1061.5 C1210.2,1063.3 1212.6,1065.3 1215.1,1067.2 C1217.5,1069.1 1220.0,1071.0 1222.5,1072.9 C1224.9,1074.8 1227.4,1076.7 1229.8,1078.6 C1232.3,1080.5 1234.8,1082.4 1237.2,1084.3 C1239.7,1086.2 1242.2,1088.0 1244.6,1090.0 C1247.1,1092.0 1249.4,1094.0 1251.8,1096.1 C1254.1,1098.1 1256.5,1100.2 1258.8,1102.3 C1261.2,1104.3 1263.5,1106.4 1265.9,1108.5 C1268.2,1110.5 1270.6,1112.6 1272.9,1114.7 C1275.3,1116.7 1277.7,1118.8 1280.0,1120.8 C1282.4,1122.9 1284.7,1125.0 1287.1,1127.0 C1289.4,1129.1 1291.8,1131.2 1294.1,1133.2 C1296.5,1135.3 1298.8,1137.4 1301.2,1139.4 C1303.6,1141.4 1306.0,1143.4 1308.4,1145.4 C1310.8,1147.5 1313.2,1149.4 1315.6,1151.4 C1318.1,1153.4 1320.5,1155.4 1322.9,1157.4 C1325.3,1159.4 1327.7,1161.4 1330.1,1163.4 C1332.6,1165.4 1335.0,1167.4 1337.4,1169.4 C1339.8,1171.4 1342.2,1173.4 1344.6,1175.4 C1347.1,1177.4 1349.5,1179.4 1351.9,1181.4 C1354.3,1183.4 1356.7,1185.4 1359.1,1187.4 C1361.6,1189.4 1364.0,1191.4 1366.4,1193.4 C1368.8,1195.4 1371.2,1197.4 1373.6,1199.4 C1376.1,1201.4 1378.4,1203.5 1380.9,1205.4 C1383.4,1207.3 1386.0,1209.1 1388.5,1210.9 C1391.0,1212.7 1393.6,1214.5 1396.2,1216.2 C1398.8,1218.0 1401.4,1219.6 1404.1,1221.4 C1406.7,1223.1 1409.3,1224.8 1412.0,1226.5 C1414.6,1228.2 1417.2,1229.9 1419.8,1231.6 C1422.5,1233.3 1425.1,1235.0 1427.7,1236.7 C1430.4,1238.5 1433.0,1240.2 1435.6,1241.9 C1438.2,1243.6 1442.2,1246.1 1443.5,1247.0" fill="none" stroke="#000" stroke-width="3.6" stroke-linecap="round"/>
<path d="M1052.9,949.8 C1054.2,950.3 1058.1,951.6 1060.7,952.5 C1063.3,953.4 1065.9,954.3 1068.5,955.2 C1071.1,956.2 1073.7,957.1 1076.3,958.0 C1078.9,958.9 1081.5,959.8 1084.1,960.7 C1086.7,961.6 1089.3,962.5 1091.9,963.4 C1094.4,964.3 1097.1,965.2 1099.6,966.3 C1102.1,967.4 1104.5,968.8 1106.9,970.0 C1109.4,971.2 1111.9,972.4 1114.3,973.7 C1116.7,974.9 1119.1,976.3 1121.5,977.7 C1123.9,979.1 1126.1,980.6 1128.5,982.1 C1130.8,983.5 1133.1,985.0 1135.4,986.5 C1137.8,987.9 1140.1,989.4 1142.4,990.9 C1144.7,992.3 1147.1,993.8 1149.4,995.3 C1151.7,996.7 1154.1,998.2 1156.4,999.7 C1158.7,1001.1 1161.0,1002.6 1163.4,1004.1 C1165.7,1005.5 1168.0,1007.0 1170.3,1008.5 C1172.6,1010.0 1174.9,1011.5 1177.2,1013.0 C1179.5,1014.6 1181.7,1016.2 1184.0,1017.8 C1186.2,1019.3 1188.5,1020.9 1190.7,1022.5 C1193.0,1024.1 1195.3,1025.6 1197.5,1027.2 C1199.7,1028.9 1201.7,1030.8 1203.8,1032.6 C1205.9,1034.3 1207.9,1036.1 1210.0,1037.9 C1212.1,1039.7 1214.2,1041.5 1216.3,1043.3 C1218.4,1045.1 1220.4,1046.8 1222.5,1048.6 C1224.6,1050.4 1226.7,1052.2 1228.8,1054.0 C1230.9,1055.8 1232.9,1057.5 1235.0,1059.3 C1237.1,1061.1 1239.2,1062.9 1241.3,1064.7 C1243.4,1066.5 1245.5,1068.2 1247.5,1070.0 C1249.5,1071.9 1251.4,1074.0 1253.3,1075.9 C1255.2,1077.9 1257.2,1079.9 1259.1,1081.8 C1261.0,1083.8 1262.9,1085.7 1264.9,1087.7 C1266.8,1089.7 1268.7,1091.6 1270.7,1093.6 C1272.6,1095.6 1274.5,1097.5 1276.4,1099.5 C1278.4,1101.5 1280.3,1103.4 1282.2,1105.4 C1284.1,1107.4 1285.9,1109.4 1287.8,1111.4 C1289.7,1113.5 1291.6,1115.5 1293.4,1117.5 C1295.3,1119.5 1297.2,1121.5 1299.1,1123.5 C1301.0,1125.5 1302.9,1127.5 1304.7,1129.5 C1306.6,1131.5 1308.5,1133.5 1310.4,1135.5 C1312.3,1137.5 1314.1,1139.5 1316.0,1141.5 C1317.9,1143.6 1319.8,1145.6 1321.7,1147.6 C1323.6,1149.6 1325.5,1151.5 1327.5,1153.4 C1329.4,1155.4 1331.4,1157.3 1333.3,1159.3 C1335.3,1161.2 1337.2,1163.1 1339.2,1165.1 C1341.1,1167.0 1343.1,1168.9 1345.0,1170.9 C1346.9,1172.8 1348.9,1174.8 1350.8,1176.7 C1352.8,1178.6 1354.7,1180.6 1356.7,1182.5 C1358.7,1184.4 1360.6,1186.3 1362.7,1188.1 C1364.8,1189.9 1367.0,1191.5 1369.2,1193.2 C1371.4,1194.9 1373.5,1196.5 1375.7,1198.2 C1377.9,1199.9 1380.0,1201.6 1382.2,1203.3 C1384.4,1205.0 1386.5,1206.7 1388.7,1208.3 C1390.9,1210.0 1393.0,1211.7 1395.2,1213.4 C1397.4,1215.1 1399.6,1216.7 1401.8,1218.3 C1404.0,1219.9 1406.3,1221.5 1408.6,1223.0 C1410.8,1224.6 1413.1,1226.2 1415.4,1227.7 C1417.6,1229.3 1419.9,1230.8 1422.1,1232.4 C1424.4,1234.0 1426.7,1235.5 1428.9,1237.1 C1431.2,1238.7 1433.5,1240.2 1435.7,1241.8 C1438.0,1243.4 1441.4,1245.7 1442.5,1246.5" fill="none" stroke="#000" stroke-width="3.6" stroke-linecap="round"/>
<path d="M1102.0,955.5 C1103.1,956.0 1106.6,957.5 1108.8,958.5 C1111.1,959.6 1113.4,960.6 1115.7,961.6 C1118.0,962.6 1120.3,963.6 1122.5,964.6 C1124.8,965.7 1127.1,966.7 1129.4,967.7 C1131.7,968.7 1133.9,969.7 1136.2,970.7 C1138.5,971.8 1140.8,972.8 1143.1,973.8 C1145.3,974.8 1147.6,975.8 1149.9,976.8 C1152.2,977.9 1154.5,978.8 1156.8,979.9 C1159.0,981.0 1161.2,982.1 1163.4,983.3 C1165.6,984.5 1167.7,985.8 1169.9,987.1 C1172.0,988.3 1174.2,989.6 1176.3,990.8 C1178.5,992.1 1180.7,993.3 1182.8,994.6 C1184.9,995.9 1187.1,997.2 1189.2,998.6 C1191.3,999.9 1193.3,1001.4 1195.4,1002.8 C1197.5,1004.2 1199.5,1005.6 1201.6,1006.9 C1203.7,1008.3 1205.8,1009.7 1207.8,1011.1 C1209.9,1012.5 1212.0,1013.9 1214.0,1015.3 C1216.1,1016.7 1218.2,1018.1 1220.3,1019.5 C1222.3,1020.9 1224.4,1022.3 1226.5,1023.7 C1228.6,1025.1 1230.7,1026.4 1232.7,1027.9 C1234.7,1029.4 1236.5,1031.1 1238.4,1032.7 C1240.4,1034.3 1242.3,1035.9 1244.2,1037.5 C1246.1,1039.1 1248.0,1040.7 1249.9,1042.3 C1251.8,1043.9 1253.7,1045.4 1255.5,1047.1 C1257.3,1048.8 1259.0,1050.8 1260.7,1052.6 C1262.4,1054.4 1264.1,1056.2 1265.8,1058.0 C1267.5,1059.8 1269.3,1061.7 1271.0,1063.5 C1272.7,1065.3 1274.4,1067.1 1276.1,1068.9 C1277.8,1070.7 1279.6,1072.6 1281.3,1074.4 C1283.0,1076.2 1284.7,1078.0 1286.4,1079.8 C1288.1,1081.6 1289.9,1083.5 1291.6,1085.3 C1293.3,1087.1 1295.0,1088.9 1296.7,1090.7 C1298.4,1092.5 1300.1,1094.4 1301.8,1096.2 C1303.5,1098.0 1305.2,1099.9 1306.9,1101.7 C1308.6,1103.6 1310.2,1105.5 1311.9,1107.3 C1313.6,1109.2 1315.2,1111.1 1316.9,1112.9 C1318.5,1114.8 1320.2,1116.7 1321.9,1118.5 C1323.5,1120.4 1325.2,1122.3 1326.8,1124.1 C1328.5,1126.0 1330.2,1127.9 1331.8,1129.7 C1333.5,1131.6 1335.1,1133.5 1336.8,1135.3 C1338.5,1137.2 1340.1,1139.1 1341.8,1140.9 C1343.5,1142.8 1345.1,1144.7 1346.8,1146.5 C1348.4,1148.4 1350.1,1150.3 1351.8,1152.1 C1353.4,1154.0 1355.1,1155.9 1356.7,1157.8 C1358.3,1159.7 1359.9,1161.6 1361.4,1163.6 C1363.0,1165.5 1364.6,1167.5 1366.2,1169.4 C1367.7,1171.3 1369.3,1173.3 1370.9,1175.2 C1372.5,1177.1 1374.1,1179.0 1375.8,1180.8 C1377.5,1182.6 1379.4,1184.2 1381.2,1185.9 C1383.0,1187.5 1384.7,1189.2 1386.5,1190.9 C1388.3,1192.6 1390.1,1194.3 1391.9,1195.9 C1393.7,1197.6 1395.5,1199.3 1397.3,1201.0 C1399.1,1202.7 1400.9,1204.4 1402.7,1206.0 C1404.5,1207.7 1406.3,1209.4 1408.1,1211.1 C1409.9,1212.8 1411.7,1214.4 1413.4,1216.1 C1415.2,1217.8 1417.0,1219.5 1418.8,1221.2 C1420.6,1222.9 1422.4,1224.5 1424.2,1226.2 C1426.0,1227.9 1427.8,1229.6 1429.6,1231.3 C1431.4,1232.9 1433.2,1234.6 1435.0,1236.3 C1436.8,1238.0 1439.5,1240.5 1440.3,1241.3" fill="none" stroke="#000" stroke-width="3.6" stroke-linecap="round"/>
<path d="M736.0,883.4 C750.8,888.1 801.4,904.5 824.8,911.8 C848.2,919.1 860.0,924.6 876.4,927.3 C892.8,930.0 904.9,927.2 923.3,927.8 C941.7,928.4 968.1,930.5 986.6,931.0 C1005.1,931.5 1015.5,929.4 1034.0,931.0 C1052.5,932.6 1077.7,936.8 1097.3,940.4 C1116.9,944.0 1132.0,947.0 1151.6,952.8 C1171.2,958.5 1193.8,965.9 1214.9,974.9 C1236.0,983.9 1263.4,997.4 1278.2,1006.6 C1293.0,1015.8 1296.1,1021.9 1303.5,1030.3 C1310.9,1038.7 1315.2,1047.8 1322.5,1057.2 C1329.8,1066.7 1336.8,1070.2 1347.5,1087.0 C1358.2,1103.8 1375.1,1137.1 1387.0,1158.2 C1398.9,1179.3 1408.9,1198.3 1418.7,1213.6 C1428.5,1228.9 1432.5,1235.6 1445.6,1250.0 C1458.6,1264.4 1488.4,1291.7 1497.0,1300.0" fill="none" stroke="#f00" stroke-width="8"/>
<path d="M468.4,716.8 C478.0,717.1 537.4,719.7 551.0,719.4 C564.6,719.1 572.2,714.4 584.6,714.2 C597.0,714.0 641.0,716.3 657.0,718.0 C673.0,719.7 703.4,725.1 721.5,728.4 C739.6,731.7 795.2,742.9 811.8,746.5 C828.4,750.1 851.5,757.7 863.5,759.4 C875.5,761.1 903.7,760.7 915.0,760.7 C926.3,760.7 947.3,759.5 960.0,759.4 C972.7,759.3 1008.1,760.0 1024.0,759.6 C1039.9,759.2 1084.8,757.8 1096.0,756.2 C1107.2,754.6 1114.1,748.5 1120.0,745.5 C1125.9,742.5 1141.5,735.0 1146.9,730.7 C1152.3,726.4 1161.7,715.3 1165.9,708.5 C1170.1,701.7 1179.1,677.3 1183.3,672.2 C1187.5,667.1 1196.8,665.8 1202.3,665.0 C1207.8,664.2 1225.1,664.7 1230.8,665.0 C1236.5,665.3 1245.4,664.7 1251.3,667.4 C1257.2,670.1 1276.6,683.6 1281.4,688.0 C1286.2,692.4 1289.5,699.7 1292.5,705.4 C1295.5,711.1 1303.7,730.2 1306.7,737.0 C1309.7,743.8 1315.4,757.1 1317.8,763.9 C1320.2,770.7 1324.5,789.2 1327.3,795.6 C1330.1,802.0 1338.0,811.8 1341.5,819.0 C1345.0,826.2 1353.6,847.5 1357.3,857.0 C1361.0,866.5 1369.3,890.8 1373.2,900.0 C1377.1,909.2 1385.6,926.4 1390.6,935.7 C1395.6,945.0 1410.9,971.6 1416.4,979.5 C1421.9,987.4 1430.1,996.0 1437.7,1003.3 C1445.3,1010.6 1474.7,1035.4 1481.6,1042.0 C1488.5,1048.6 1493.9,1055.6 1497.0,1060.0 C1500.1,1064.4 1504.8,1073.9 1507.8,1080.0 C1510.8,1086.1 1519.2,1104.3 1522.9,1112.0 C1526.6,1119.7 1535.6,1136.2 1539.5,1145.8 C1543.4,1155.4 1553.3,1186.8 1556.0,1193.9 C1558.7,1201.0 1560.0,1202.4 1562.3,1206.6 C1564.6,1210.8 1573.0,1224.5 1576.0,1230.0 C1579.0,1235.5 1585.5,1247.9 1588.0,1253.7 C1590.5,1259.5 1594.2,1273.2 1597.7,1280.0 C1601.2,1286.8 1611.8,1301.9 1617.8,1312.3 C1623.8,1322.7 1643.1,1356.6 1649.4,1369.2 C1655.7,1381.8 1667.9,1411.2 1672.1,1420.0 C1676.3,1428.8 1682.3,1438.9 1685.4,1444.7 C1688.5,1450.5 1693.8,1461.2 1699.0,1470.0 C1704.2,1478.8 1722.7,1508.3 1730.0,1520.0 C1737.3,1531.7 1755.7,1560.7 1762.0,1570.0 C1768.3,1579.3 1776.7,1590.7 1783.6,1600.0 C1790.5,1609.3 1812.6,1638.3 1821.0,1650.0 C1829.4,1661.7 1843.5,1686.7 1855.8,1700.0 C1868.1,1713.3 1911.4,1751.9 1926.4,1763.8 C1941.4,1775.7 1970.7,1793.8 1984.6,1801.9 C1998.5,1810.0 2034.7,1828.6 2045.9,1833.5 C2057.1,1838.4 2069.3,1841.4 2080.3,1844.2 C2091.3,1847.0 2121.9,1854.8 2140.5,1857.1 C2159.1,1859.4 2211.4,1862.6 2239.5,1863.6 C2267.6,1864.6 2341.6,1865.5 2381.5,1865.7 C2421.4,1865.9 2558.3,1865.7 2581.6,1865.7" fill="none" stroke="#000" stroke-width="8" stroke-linejoin="round"/>
<line x1="367" y1="651" x2="2581" y2="651" stroke="#000" stroke-width="3.4"/>
<rect x="359" y="553" width="2230" height="1438" fill="none" stroke="#000" stroke-width="16"/>
<path d="M978.8,606.5 L1131,672 L1133,667 L1206,701 L1126,686 L1128,680 L972.3,625.8 Z" fill="#fff" stroke="#f00" stroke-width="3" stroke-linejoin="miter"/>
<path d="M1056.9,855.5 L999.3,910.6 L994.9,907.1 L973.6,927.2 L1004.6,916.8 L1001.6,913.4 L1066.5,867.8 Z" fill="#fff" stroke="#f00" stroke-width="2.6"/>
<text transform="translate(1208.0,772.0) scale(0.920,1)" font-size="49.0" font-family="Liberation Serif" font-weight="bold" fill="#000" stroke="#f00" stroke-width="6.0" paint-order="stroke" stroke-linejoin="round" xml:space="preserve">TI</text>
<text transform="translate(1147.0,901.7) scale(0.930,1)" font-size="50.0" font-family="Liberation Serif" font-weight="bold" fill="#000" stroke="#f00" stroke-width="6.0" paint-order="stroke" stroke-linejoin="round" xml:space="preserve">LPW</text>
<text transform="translate(1116.5,1039.0) scale(0.960,1)" font-size="48.0" font-family="Liberation Serif" font-weight="bold" fill="#000" stroke="#f00" stroke-width="6.0" paint-order="stroke" stroke-linejoin="round" xml:space="preserve">HPW</text>
<text transform="translate(872.0,830.0) rotate(1.60) scale(0.945,1)" font-size="49.0" font-family="Liberation Serif" font-weight="bold" fill="#ffff00" stroke="#f00" stroke-width="5.0" paint-order="stroke" stroke-linejoin="round" xml:space="preserve">Discordância</text>
<text transform="translate(456.0,640.7) scale(0.930,1)" font-size="25.6" font-family="Liberation Serif" font-weight="bold" font-style="italic" fill="#000" xml:space="preserve">Nível do mar</text>
<text transform="translate(2342.0,1858.0) scale(0.960,1)" font-size="30.8" font-family="Liberation Serif" font-weight="bold" font-style="italic" fill="#000" xml:space="preserve">Sea floor</text>
<text transform="translate(652.8,1493.0) scale(0.930,1)" font-size="124.0" font-family="Liberation Serif" font-weight="bold" fill="#000" stroke="#fff" stroke-width="6.0" paint-order="stroke" stroke-linejoin="round" xml:space="preserve">Substrate</text>
<rect x="371.7" y="1932.9" width="282" height="47.7" fill="#fff" stroke="#333" stroke-width="2"/>
<text transform="translate(388.7,1952.3) scale(0.970,1)" font-size="24.0" font-family="Liberation Serif" font-weight="bold" font-style="italic" fill="#000" xml:space="preserve">C. Cramez, adapted dfrom</text>
<text transform="translate(417.1,1973.1) scale(0.960,1)" font-size="24.0" font-family="Liberation Serif" font-weight="bold" font-style="italic" fill="#000" xml:space="preserve">Marco Polo software</text>
<rect x="303" y="648.0" width="49" height="12" fill="#000"/>
<text x="300.5" y="671.0" text-anchor="end" font-size="57" font-family="Liberation Serif" font-weight="bold">0</text>
<rect x="303" y="941.0" width="49" height="12" fill="#000"/>
<text x="300.5" y="964.0" text-anchor="end" font-size="57" font-family="Liberation Serif" font-weight="bold">100</text>
<rect x="303" y="1233.0" width="49" height="12" fill="#000"/>
<text x="300.5" y="1256.0" text-anchor="end" font-size="57" font-family="Liberation Serif" font-weight="bold">200</text>
<rect x="303" y="1525.0" width="49" height="12" fill="#000"/>
<text x="300.5" y="1548.0" text-anchor="end" font-size="57" font-family="Liberation Serif" font-weight="bold">300</text>
<rect x="303" y="1818.0" width="49" height="12" fill="#000"/>
<text x="300.5" y="1841.0" text-anchor="end" font-size="57" font-family="Liberation Serif" font-weight="bold">400</text>
<rect x="2597" y="935.4" width="50" height="12" fill="#000"/>
<text x="2651" y="959.0" font-size="57" font-family="Liberation Serif" font-weight="bold">100</text>
<rect x="2597" y="1228.4" width="50" height="12" fill="#000"/>
<text x="2651" y="1252.0" font-size="57" font-family="Liberation Serif" font-weight="bold">200</text>
<rect x="2597" y="1520.7" width="50" height="12" fill="#000"/>
<text x="2651" y="1544.3" font-size="57" font-family="Liberation Serif" font-weight="bold">300</text>
<rect x="2597" y="1813.3" width="50" height="12" fill="#000"/>
<text x="2651" y="1836.9" font-size="57" font-family="Liberation Serif" font-weight="bold">400</text>
<text transform="translate(187,1357) rotate(-90) scale(0.885,1)" font-size="58" font-family="Liberation Serif" font-weight="bold">meters</text>
<text transform="translate(2801,1352.3) rotate(-90) scale(0.885,1)" font-size="58" font-family="Liberation Serif" font-weight="bold">meters</text>
<rect x="354" y="500" width="11" height="50" fill="#000"/>
<rect x="954.2" y="497.9" width="11.6" height="50" fill="#000"/>
<text transform="translate(373,539) scale(1.03,1)" font-size="54" font-family="Liberation Serif" font-weight="bold">1 km</text>
<text transform="translate(976,541) scale(1.02,1)" font-size="54" font-family="Liberation Serif" font-weight="bold">9 km</text>
<text x="238" y="452" font-size="48" font-family="Liberation Serif" font-weight="bold">VE=38.0</text>
<text x="754.5" y="451.2" font-size="48.8" font-family="Liberation Serif" font-weight="bold" xml:space="preserve">12.590  175754</text>
<text x="741" y="170" text-anchor="middle" font-size="171" font-family="Liberation Serif" font-weight="bold" fill="#000" stroke="#f00" stroke-width="10" paint-order="stroke" stroke-linejoin="round">Reef</text>
<text x="738" y="336" text-anchor="middle" font-size="168" font-family="Liberation Serif" font-weight="bold" fill="#000" stroke="#f00" stroke-width="10" paint-order="stroke" stroke-linejoin="round">Growth</text>
<rect x="1481.5" y="7.5" width="1464.5" height="850.5" fill="#666" stroke="#000" stroke-width="12"/>
<line x1="1648.3" y1="143.7" x2="1648.3" y2="790" stroke="#6ee040" stroke-width="2.2" stroke-dasharray="41 17"/>
<line x1="1686.8" y1="139.9" x2="1686.8" y2="790" stroke="#6ee040" stroke-width="2.2" stroke-dasharray="41 17"/>
<line x1="1725.3" y1="141.8" x2="1725.3" y2="790" stroke="#6ee040" stroke-width="2.2" stroke-dasharray="41 17"/>
<line x1="1763.8" y1="143.7" x2="1763.8" y2="790" stroke="#6ee040" stroke-width="2.2" stroke-dasharray="41 17"/>
<line x1="1802.3" y1="135" x2="1802.3" y2="789" stroke="#d42020" stroke-width="2.2"/>
<line x1="1840.8" y1="135" x2="1840.8" y2="789" stroke="#d42020" stroke-width="2.2"/>
<line x1="1879.3" y1="135" x2="1879.3" y2="789" stroke="#d42020" stroke-width="2.2"/>
<line x1="1917.8" y1="135" x2="1917.8" y2="789" stroke="#d42020" stroke-width="2.2"/>
<line x1="1956.3" y1="135" x2="1956.3" y2="789" stroke="#d42020" stroke-width="2.2"/>
<line x1="1994.8" y1="135" x2="1994.8" y2="789" stroke="#d42020" stroke-width="2.2"/>
<line x1="2033.3" y1="135" x2="2033.3" y2="789" stroke="#d42020" stroke-width="2.2"/>
<line x1="2071.8" y1="141.0" x2="2071.8" y2="790" stroke="#6ee040" stroke-width="2.2" stroke-dasharray="41 17"/>
<line x1="2110.3" y1="141.0" x2="2110.3" y2="790" stroke="#6ee040" stroke-width="2.2" stroke-dasharray="41 17"/>
<line x1="2148.8" y1="141.0" x2="2148.8" y2="790" stroke="#6ee040" stroke-width="2.2" stroke-dasharray="41 17"/>
<line x1="2187.3" y1="141.0" x2="2187.3" y2="790" stroke="#6ee040" stroke-width="2.2" stroke-dasharray="41 17"/>
<line x1="2225.8" y1="141.0" x2="2225.8" y2="790" stroke="#6ee040" stroke-width="2.2" stroke-dasharray="41 17"/>
<path d="M1579.7,136.5 H1597.3 V791.4" fill="none" stroke="#fff" stroke-width="4.8"/>
<line x1="1570.2" y1="373" x2="2229" y2="373" stroke="#fff" stroke-width="4.8"/>
<text transform="translate(1522.8,149.0) scale(0.700,1)" font-size="30.8" font-family="Liberation Serif" font-weight="bold" fill="#fff" xml:space="preserve">40 m</text>
<text transform="translate(1523.0,381.4) scale(0.700,1)" font-size="30.8" font-family="Liberation Serif" font-weight="bold" fill="#fff" xml:space="preserve">0 m</text>
<path d="M1607.0,557.0 L1609.0,553.4 L1611.0,549.8 L1613.0,546.2 L1615.0,542.6 L1617.0,539.1 L1619.0,535.5 L1621.0,531.9 L1623.0,528.4 L1625.0,524.8 L1627.0,521.3 L1629.0,517.8 L1631.0,514.3 L1633.0,510.8 L1635.0,507.4 L1637.0,503.9 L1639.0,500.5 L1641.0,497.1 L1643.0,493.7 L1645.0,490.4 L1647.0,487.1 L1649.0,483.8 L1651.0,480.5 L1653.0,477.3 L1655.0,474.1 L1657.0,471.0 L1659.0,467.8 L1661.0,464.8 L1663.0,461.7 L1665.0,458.7 L1667.0,455.7 L1669.0,452.8 L1671.0,449.9 L1673.0,447.1 L1675.0,444.3 L1677.0,441.6 L1679.0,438.9 L1681.0,436.2 L1683.0,433.6 L1685.0,431.1 L1687.0,428.6 L1689.0,426.2 L1691.0,423.8 L1693.0,421.4 L1695.0,419.2 L1697.0,417.0 L1699.0,414.8 L1701.0,412.7 L1703.0,410.7 L1705.0,408.7 L1707.0,406.8 L1709.0,404.9 L1711.0,403.1 L1713.0,401.4 L1715.0,399.7 L1717.0,398.1 L1719.0,396.6 L1721.0,395.1 L1723.0,393.7 L1725.0,392.4 L1727.0,391.1 L1729.0,389.9 L1731.0,388.8 L1733.0,387.8 L1735.0,386.8 L1737.0,385.9 L1739.0,385.0 L1741.0,384.2 L1743.0,383.5 L1745.0,382.9 L1747.0,382.4 L1749.0,381.9 L1751.0,381.5 L1753.0,381.1 L1755.0,380.9 L1757.0,380.7 L1759.0,380.5 L1761.0,380.5 L1763.0,380.5 L1765.0,380.6 L1767.0,380.8 L1769.0,381.0 L1771.0,381.4 L1773.0,381.8 L1775.0,382.2 L1777.0,382.8 L1779.0,383.4 L1781.0,384.1 L1783.0,384.8 L1785.0,385.6 L1787.0,386.5 L1789.0,387.5 L1791.0,388.5 L1793.0,389.6 L1795.0,390.8 L1797.0,392.1 L1799.0,393.4 L1801.0,394.8 L1803.0,396.2 L1805.0,397.7 L1807.0,399.3 L1809.0,401.0 L1811.0,402.7 L1813.0,404.4 L1815.0,406.3 L1817.0,408.2 L1819.0,410.2 L1821.0,412.2 L1823.0,414.3 L1825.0,416.4 L1827.0,418.6 L1829.0,420.9 L1831.0,423.2 L1833.0,425.6 L1835.0,428.0 L1837.0,430.5 L1839.0,433.0 L1841.0,435.6 L1843.0,438.2 L1845.0,440.9 L1847.0,443.6 L1849.0,446.4 L1851.0,449.2 L1853.0,452.1 L1855.0,455.0 L1857.0,458.0 L1859.0,461.0 L1861.0,464.0 L1863.0,467.1 L1865.0,470.2 L1867.0,473.3 L1869.0,476.5 L1871.0,479.7 L1873.0,483.0 L1875.0,486.3 L1877.0,489.6 L1879.0,492.9 L1881.0,496.3 L1883.0,499.6 L1885.0,503.1 L1887.0,506.5 L1889.0,509.9 L1891.0,513.4 L1893.0,516.9 L1895.0,520.4 L1897.0,523.9 L1899.0,527.5 L1901.0,531.0 L1903.0,534.6 L1905.0,538.2 L1907.0,541.7 L1909.0,545.3 L1911.0,548.9 L1913.0,552.5 L1915.0,556.1 L1917.0,559.7 L1919.0,563.3 L1921.0,566.9 L1923.0,570.5 L1925.0,574.0 L1927.0,577.6 L1929.0,581.2 L1931.0,584.7 L1933.0,588.3 L1935.0,591.8 L1937.0,595.3 L1939.0,598.8 L1941.0,602.3 L1943.0,605.8 L1945.0,609.2 L1947.0,612.7 L1949.0,616.1 L1951.0,619.4 L1953.0,622.8 L1955.0,626.1 L1957.0,629.4 L1959.0,632.7 L1961.0,635.9 L1963.0,639.1 L1965.0,642.2 L1967.0,645.4 L1969.0,648.5 L1971.0,651.5 L1973.0,654.5 L1975.0,657.5 L1977.0,660.5 L1979.0,663.3 L1981.0,666.2 L1983.0,669.0 L1985.0,671.7 L1987.0,674.5 L1989.0,677.1 L1991.0,679.7 L1993.0,682.3 L1995.0,684.8 L1997.0,687.2 L1999.0,689.6 L2001.0,692.0 L2003.0,694.3 L2005.0,696.5 L2007.0,698.7 L2009.0,700.8 L2011.0,702.8 L2013.0,704.8 L2015.0,706.8 L2017.0,708.6 L2019.0,710.4 L2021.0,712.2 L2023.0,713.9 L2025.0,715.5 L2027.0,717.0 L2029.0,718.5 L2031.0,719.9 L2033.0,721.3 L2035.0,722.6 L2037.0,723.8 L2039.0,724.9 L2041.0,726.0 L2043.0,727.0 L2045.0,727.9 L2047.0,728.8 L2049.0,729.6 L2051.0,730.3 L2053.0,730.9 L2055.0,731.5 L2057.0,732.0 L2059.0,732.4 L2061.0,732.8 L2063.0,733.1 L2065.0,733.3 L2067.0,733.4 L2069.0,733.5 L2071.0,733.5 L2073.0,733.4 L2075.0,733.2 L2077.0,733.0 L2079.0,732.7 L2081.0,732.3 L2083.0,731.9 L2085.0,731.4 L2087.0,730.8 L2089.0,730.1 L2091.0,729.4 L2093.0,728.6 L2095.0,727.7 L2097.0,726.7 L2099.0,725.7 L2101.0,724.6 L2103.0,723.5 L2105.0,722.2 L2107.0,721.0 L2109.0,719.6 L2111.0,718.2 L2113.0,716.7 L2115.0,715.1 L2117.0,713.5 L2119.0,711.8 L2121.0,710.0 L2123.0,708.2 L2125.0,706.3 L2127.0,704.3 L2129.0,702.3 L2131.0,700.3 L2133.0,698.1 L2135.0,695.9 L2137.0,693.7 L2139.0,691.4 L2141.0,689.0 L2143.0,686.6 L2145.0,684.2 L2147.0,681.6 L2149.0,679.1 L2151.0,676.5 L2153.0,673.8 L2155.0,671.1 L2157.0,668.3 L2159.0,665.5 L2161.0,662.6 L2163.0,659.7 L2165.0,656.8 L2167.0,653.8 L2169.0,650.8 L2171.0,647.7 L2173.0,644.6 L2175.0,641.5 L2177.0,638.3 L2179.0,635.1 L2181.0,631.8 L2183.0,628.6 L2185.0,625.3 L2187.0,621.9 L2189.0,618.6 L2191.0,615.2 L2193.0,611.8 L2195.0,608.4 L2197.0,604.9 L2199.0,601.5 L2201.0,598.0 L2203.0,594.5 L2205.0,590.9 L2207.0,587.4 L2209.0,583.9 L2211.0,580.3 L2213.0,576.7 L2215.0,573.2 L2217.0,569.6 L2219.0,566.0 L2221.0,562.4 L2223.0,558.8" fill="none" stroke="#33ffff" stroke-width="5.5"/>
<line x1="1608" y1="371" x2="2227.6" y2="477.8" stroke="#f00" stroke-width="5"/>
<path d="M1608.7,370.0 C1615.2,358.0 1634.7,319.9 1647.5,298.0 C1660.3,276.1 1672.2,256.7 1685.4,238.6 C1698.6,220.5 1712.5,200.8 1726.6,189.6 C1740.7,178.4 1756.9,173.0 1770.1,171.4 C1783.3,169.8 1793.2,173.0 1805.7,180.0 C1818.2,187.0 1832.7,199.8 1845.3,213.3 C1857.9,226.8 1869.2,243.4 1881.6,260.8 C1894.0,278.2 1907.6,299.4 1919.6,318.0 C1931.6,336.6 1941.2,353.3 1953.8,372.6 C1966.3,391.9 1982.8,419.4 1994.9,434.0 C2007.0,448.6 2015.0,454.4 2026.6,460.4 C2038.2,466.4 2052.7,470.2 2064.6,470.0 C2076.5,469.8 2085.7,467.1 2097.8,458.9 C2109.9,450.7 2125.4,435.3 2137.3,420.9 C2149.2,406.5 2154.2,398.2 2169.0,372.6 C2183.8,347.0 2216.5,284.9 2226.0,267.4" fill="none" stroke="#0000ff" stroke-width="5"/>
<rect x="1994.4" y="357.8" width="146.4" height="22.8" fill="#fff" stroke="#000" stroke-width="3"/>
<text transform="translate(2002.0,376.2) scale(0.610,1)" font-size="24.0" font-family="Liberation Serif" font-weight="bold" fill="#000" xml:space="preserve">Reference Sea Level</text>
<text transform="translate(1667.0,346.8) rotate(-55.00)" font-size="34.0" font-family="Liberation Serif" font-weight="bold" fill="#fff" stroke="#1a3cff" stroke-width="2.5" paint-order="stroke" stroke-linejoin="round" xml:space="preserve">Eustasy</text>
<text transform="translate(1873.0,454.4) rotate(10.50) scale(0.900,1)" font-size="30.0" font-family="Liberation Serif" font-weight="bold" fill="#000" stroke="#fff" stroke-width="4.0" paint-order="stroke" stroke-linejoin="round" xml:space="preserve">Subsidence</text>
<text transform="translate(1636.2,89.4) scale(0.860,1)" font-size="61.6" font-family="Liberation Serif" font-weight="bold" fill="#aaffff" stroke="#0000ff" stroke-width="7.0" paint-order="stroke" stroke-linejoin="round" xml:space="preserve">Eustasy &amp; Subsidence</text>
<text transform="translate(2388.3,87.3) scale(0.852,1)" font-size="61.0" font-family="Liberation Serif" font-weight="bold" fill="#ccff99" stroke="#119911" stroke-width="7.0" paint-order="stroke" stroke-linejoin="round" xml:space="preserve">Orgtanic Production</text>
<text transform="translate(2775.8,125.2) scale(0.910,1)" font-size="31.3" font-family="Liberation Serif" font-weight="bold" fill="#fff" xml:space="preserve">7.00 cm/ky</text>
<text transform="translate(2429.5,161.6) scale(0.920,1)" font-size="32.5" font-family="Liberation Serif" font-weight="bold" fill="#fff" xml:space="preserve">0.00</text>
<text transform="translate(2572.0,160.4) scale(0.920,1)" font-size="32.5" font-family="Liberation Serif" font-weight="bold" fill="#fff" xml:space="preserve">3.00</text>
<text transform="translate(2717.6,162.5) scale(0.920,1)" font-size="32.5" font-family="Liberation Serif" font-weight="bold" fill="#fff" xml:space="preserve">6.00</text>
<text transform="translate(2868.7,167.0) scale(0.920,1)" font-size="32.5" font-family="Liberation Serif" font-weight="bold" fill="#fff" xml:space="preserve">9.00</text>
<text transform="translate(2323.0,216.8) scale(0.900,1)" font-size="32.8" font-family="Liberation Serif" font-weight="bold" fill="#fff" xml:space="preserve">-10 m</text>
<line x1="2456.2" y1="171.4" x2="2456.2" y2="207" stroke="#fff" stroke-width="4.8"/>
<line x1="2602.3" y1="171.4" x2="2602.3" y2="207" stroke="#fff" stroke-width="4.8"/>
<line x1="2749.0" y1="171.4" x2="2749.0" y2="207" stroke="#fff" stroke-width="4.8"/>
<line x1="2795.8" y1="171.4" x2="2795.8" y2="207" stroke="#fff" stroke-width="4.8"/>
<line x1="2896.0" y1="171.4" x2="2896.0" y2="207" stroke="#fff" stroke-width="4.8"/>
<line x1="2450" y1="207.8" x2="2903.4" y2="207.8" stroke="#fff" stroke-width="4.2"/>
<path d="M2399.5,204.8 H2432.8 V837" fill="none" stroke="#fff" stroke-width="5.5"/>
<line x1="2455" y1="231" x2="2455" y2="831" stroke="#fff" stroke-width="3.5"/>
<line x1="2424.6" y1="261.8" x2="2900.4" y2="261.8" stroke="#fff" stroke-width="3.2"/>
<path d="M2453.8,263.9 L2766.9,277.3 C2770.9,278.2 2786.0,279.5 2791.2,282.6 C2796.4,285.8 2797.1,290.4 2797.9,296.2 C2798.7,302.0 2797.1,310.7 2796.0,317.5 C2794.9,324.3 2794.1,329.4 2791.2,336.8 C2788.3,344.2 2787.3,350.4 2778.6,362.0 C2769.9,373.6 2752.0,394.6 2738.9,406.5 C2725.8,418.4 2719.6,418.0 2700.2,433.6 C2680.8,449.2 2640.4,484.3 2622.7,500.0 C2605.0,515.7 2609.1,513.4 2594.2,527.6 C2579.3,541.8 2547.6,570.6 2533.4,585.3 C2519.2,600.0 2516.7,604.1 2509.1,615.7 C2501.5,627.4 2494.0,641.5 2487.9,655.2 C2481.8,668.9 2477.0,684.0 2472.7,697.7 C2468.4,711.4 2464.3,724.5 2462.0,737.2 C2459.7,749.9 2460.0,761.0 2459.0,773.7 C2458.0,786.4 2456.7,803.7 2456.0,813.2 C2455.3,822.8 2455.2,828.0 2455.0,831.0 Z" fill="#33ffff" stroke="#fff" stroke-width="3"/>
<path d="M2453.8,265.4 L2675.0,277.8 C2677.6,278.3 2687.1,279.2 2690.5,280.7 C2693.9,282.1 2695.3,283.9 2695.3,286.5 C2695.3,289.1 2694.5,291.7 2690.5,296.2 C2686.5,300.7 2683.0,305.4 2671.1,313.6 C2659.2,321.8 2633.3,337.4 2618.8,345.5 C2604.3,353.6 2601.1,352.1 2584.0,362.0 C2566.9,371.9 2533.0,391.7 2516.2,404.6 C2499.4,417.5 2491.4,429.8 2483.3,439.5 C2475.2,449.2 2472.0,452.6 2467.8,462.7 C2463.6,472.8 2460.2,488.8 2458.1,500.0 C2456.0,511.2 2455.5,525.0 2455.0,530.0 Z" fill="#66ff33" stroke="#fff" stroke-width="3"/>
<text transform="translate(2530.0,672.0) scale(0.860,1)" font-size="42.0" font-family="Liberation Serif" font-weight="bold" fill="#aaffff" stroke="#0000ff" stroke-width="7.5" paint-order="stroke" stroke-linejoin="round" xml:space="preserve">Reef Production</text>
<text transform="translate(2528.5,714.0) scale(0.860,1)" font-size="42.0" font-family="Liberation Serif" font-weight="bold" fill="#66ff33" stroke="#008800" stroke-width="7.5" paint-order="stroke" stroke-linejoin="round" xml:space="preserve">Alga Production</text>
</svg></body></html>
